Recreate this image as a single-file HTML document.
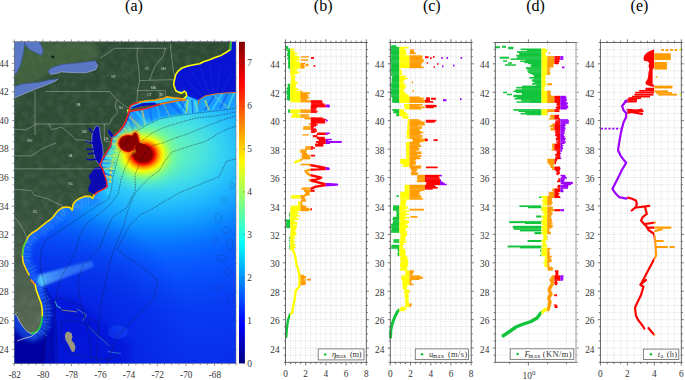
<!DOCTYPE html><html><head><meta charset="utf-8"><style>html,body{margin:0;padding:0;background:#fff;width:685px;height:380px;overflow:hidden}svg{display:block}</style></head><body>
<svg width="685" height="380" viewBox="0 0 685 380">
<defs><radialGradient id="far" gradientUnits="userSpaceOnUse" cx="160" cy="150" r="330" gradientTransform="translate(160 150) scale(1 0.68) translate(-160 -150)"><stop offset="0.0000" stop-color="#68f4b8"/><stop offset="0.0909" stop-color="#58ecc8"/><stop offset="0.1455" stop-color="#46e0e2"/><stop offset="0.1879" stop-color="#36d2f2"/><stop offset="0.2303" stop-color="#28c2fa"/><stop offset="0.2788" stop-color="#1cb0ff"/><stop offset="0.3273" stop-color="#129cff"/><stop offset="0.3758" stop-color="#0a86ff"/><stop offset="0.4303" stop-color="#0870ff"/><stop offset="0.5000" stop-color="#085cff"/><stop offset="0.5909" stop-color="#084cfa"/><stop offset="0.7121" stop-color="#083cf4"/><stop offset="0.8788" stop-color="#0832f0"/><stop offset="1.0000" stop-color="#0a2cec"/></radialGradient><radialGradient id="hot" gradientUnits="userSpaceOnUse" cx="143.5" cy="154.5" r="44" gradientTransform="translate(143.5 154.5) scale(1 0.85) translate(-143.5 -154.5)"><stop offset="0.0000" stop-color="#800000" stop-opacity="1"/><stop offset="0.1932" stop-color="#8c0000" stop-opacity="1"/><stop offset="0.2273" stop-color="#c00000" stop-opacity="1"/><stop offset="0.2682" stop-color="#ff1800" stop-opacity="1"/><stop offset="0.3136" stop-color="#ff6800" stop-opacity="1"/><stop offset="0.3591" stop-color="#ffa800" stop-opacity="1"/><stop offset="0.4045" stop-color="#ffdc00" stop-opacity="1"/><stop offset="0.4500" stop-color="#f0ff10" stop-opacity="1"/><stop offset="0.5068" stop-color="#c8ff38" stop-opacity="1"/><stop offset="0.5909" stop-color="#a0ff60" stop-opacity="0.85"/><stop offset="0.6818" stop-color="#84ff80" stop-opacity="0.6"/><stop offset="0.8182" stop-color="#70f8a0" stop-opacity="0.3"/><stop offset="1.0000" stop-color="#68f4b8" stop-opacity="0"/></radialGradient><radialGradient id="blob"><stop offset="0" stop-color="#800000" stop-opacity="1"/><stop offset="0.78" stop-color="#900000" stop-opacity="1"/><stop offset="0.86" stop-color="#ff0000" stop-opacity="1"/><stop offset="0.93" stop-color="#ffa000" stop-opacity="0.8"/><stop offset="1" stop-color="#ffff00" stop-opacity="0"/></radialGradient><filter id="bl1" x="-0.3" y="-0.3" width="1.6" height="1.6"><feGaussianBlur stdDeviation="0.9"/></filter><filter id="bl3" x="-0.2" y="-0.2" width="1.4" height="1.4"><feGaussianBlur stdDeviation="2.5"/></filter><linearGradient id="landg" gradientUnits="userSpaceOnUse" x1="0" y1="42" x2="0" y2="363"><stop offset="0" stop-color="#2d4b34"/><stop offset="0.35" stop-color="#2e4d35"/><stop offset="0.52" stop-color="#34523b"/><stop offset="0.7" stop-color="#465c48"/><stop offset="1" stop-color="#5e6e58"/></linearGradient><filter id="tex" x="0" y="0" width="1" height="1"><feTurbulence type="fractalNoise" baseFrequency="0.14" numOctaves="3" seed="3"/><feColorMatrix type="matrix" values="0 0 0 0 0.5  0 0 0 0 0.56  0 0 0 0 0.48  0 0 0 0.9 -0.3"/><feComposite in2="SourceGraphic" operator="in"/></filter><radialGradient id="dsw" gradientUnits="userSpaceOnUse" cx="70" cy="330" r="120"><stop offset="0" stop-color="#0414d8" stop-opacity="0.75"/><stop offset="0.6" stop-color="#0418dc" stop-opacity="0.4"/><stop offset="1" stop-color="#0418dc" stop-opacity="0"/></radialGradient><clipPath id="mapclip"><rect x="14.3" y="41.85" width="221.70" height="321.75"/></clipPath><linearGradient id="seab" x1="0" y1="0" x2="0" y2="1"><stop offset="0" stop-color="#0030ff"/><stop offset="1" stop-color="#0018e8"/></linearGradient><linearGradient id="ray" x1="0" y1="0" x2="1" y2="0"><stop offset="0" stop-color="#60c0ff" stop-opacity="0.95"/><stop offset="0.5" stop-color="#4a98ff" stop-opacity="0.7"/><stop offset="1" stop-color="#4890ff" stop-opacity="0.55"/></linearGradient></defs>
<g clip-path="url(#mapclip)"><rect x="14.3" y="41.85" width="221.70" height="321.75" fill="url(#seab)"/><rect x="14.3" y="41.85" width="221.70" height="321.75" fill="url(#far)"/><rect x="14.3" y="200" width="200" height="170" fill="url(#dsw)"/><clipPath id="shc"><polygon points="236.0,90.0 186.0,98.0 160.5,103.0 129.5,110.5 128.2,114.2 125.8,121.3 123.4,126.0 119.5,130.8 114.0,135.6 111.0,137.5 110.5,146.0 105.0,154.7 101.0,162.0 100.3,166.0 104.5,175.0 106.4,180.0 107.1,186.6 104.0,189.0 108.0,196.0 111.3,189.5 112.6,179.0 115.3,168.4 119.2,152.6 125.8,142.0 136.3,131.6 146.8,125.0 160.0,119.0 175.8,115.8 196.8,113.2 215.0,111.0 236.0,108.0"/></clipPath><g clip-path="url(#shc)"><linearGradient id="shg" gradientUnits="userSpaceOnUse" x1="0" y1="100" x2="0" y2="195"><stop offset="0" stop-color="#0c78ff"/><stop offset="0.35" stop-color="#20b4ff"/><stop offset="1" stop-color="#30c8fc"/></linearGradient><polygon points="236.0,90.0 186.0,98.0 160.5,103.0 129.5,110.5 128.2,114.2 125.8,121.3 123.4,126.0 119.5,130.8 114.0,135.6 111.0,137.5 110.5,146.0 105.0,154.7 101.0,162.0 100.3,166.0 104.5,175.0 106.4,180.0 107.1,186.6 104.0,189.0 108.0,196.0 111.3,189.5 112.6,179.0 115.3,168.4 119.2,152.6 125.8,142.0 136.3,131.6 146.8,125.0 160.0,119.0 175.8,115.8 196.8,113.2 215.0,111.0 236.0,108.0" fill="url(#shg)"/><line x1="236.0" y1="90.0" x2="248.7" y2="117.2" stroke="#30d8ff" stroke-width="2.2" opacity="0.63"/><line x1="224.1" y1="91.9" x2="230.5" y2="121.2" stroke="#0050f0" stroke-width="2.2" opacity="0.67"/><line x1="212.3" y1="93.8" x2="234.9" y2="113.5" stroke="#e8f040" stroke-width="1.7" opacity="0.68"/><line x1="200.4" y1="95.7" x2="212.6" y2="123.1" stroke="#40e0ff" stroke-width="2.4" opacity="0.39"/><line x1="188.5" y1="97.6" x2="204.1" y2="123.2" stroke="#0a60ff" stroke-width="1.4" opacity="0.54"/><line x1="181.2" y1="98.9" x2="194.9" y2="125.7" stroke="#ffd040" stroke-width="1.0" opacity="0.43"/><line x1="175.2" y1="100.1" x2="194.0" y2="123.5" stroke="#30d8ff" stroke-width="2.5" opacity="0.62"/><line x1="169.1" y1="101.3" x2="189.8" y2="123.0" stroke="#0050f0" stroke-width="2.3" opacity="0.40"/><line x1="163.1" y1="102.5" x2="175.9" y2="129.6" stroke="#e8f040" stroke-width="1.2" opacity="0.35"/><line x1="156.3" y1="104.0" x2="164.1" y2="133.0" stroke="#40e0ff" stroke-width="1.3" opacity="0.43"/><line x1="148.9" y1="105.8" x2="154.5" y2="135.3" stroke="#0a60ff" stroke-width="2.4" opacity="0.45"/><line x1="141.6" y1="107.6" x2="147.6" y2="137.0" stroke="#ffd040" stroke-width="1.9" opacity="0.59"/><line x1="134.2" y1="109.4" x2="154.2" y2="131.7" stroke="#30d8ff" stroke-width="2.5" opacity="0.59"/><line x1="129.4" y1="110.8" x2="135.3" y2="140.2" stroke="#0050f0" stroke-width="2.4" opacity="0.45"/><line x1="129.1" y1="111.7" x2="146.5" y2="136.1" stroke="#e8f040" stroke-width="1.3" opacity="0.40"/><line x1="128.8" y1="112.6" x2="150.9" y2="132.9" stroke="#40e0ff" stroke-width="1.5" opacity="0.56"/><line x1="128.5" y1="113.4" x2="151.4" y2="132.8" stroke="#0a60ff" stroke-width="2.1" opacity="0.47"/><line x1="128.1" y1="114.4" x2="146.4" y2="138.2" stroke="#ffd040" stroke-width="2.3" opacity="0.52"/><line x1="127.5" y1="116.1" x2="145.8" y2="140.0" stroke="#30d8ff" stroke-width="1.8" opacity="0.60"/><line x1="127.0" y1="117.8" x2="149.2" y2="138.0" stroke="#0050f0" stroke-width="2.6" opacity="0.36"/><line x1="126.4" y1="119.5" x2="136.7" y2="147.7" stroke="#e8f040" stroke-width="2.4" opacity="0.36"/><line x1="125.8" y1="121.2" x2="135.4" y2="149.6" stroke="#40e0ff" stroke-width="1.6" opacity="0.55"/><line x1="125.3" y1="122.3" x2="148.1" y2="141.8" stroke="#0a60ff" stroke-width="1.1" opacity="0.41"/><line x1="124.7" y1="123.5" x2="130.8" y2="152.8" stroke="#ffd040" stroke-width="1.3" opacity="0.61"/><line x1="124.1" y1="124.6" x2="130.8" y2="153.8" stroke="#30d8ff" stroke-width="2.5" opacity="0.47"/><line x1="123.6" y1="125.7" x2="141.1" y2="150.0" stroke="#0050f0" stroke-width="1.8" opacity="0.62"/><line x1="122.7" y1="126.8" x2="144.2" y2="147.8" stroke="#e8f040" stroke-width="2.2" opacity="0.63"/><line x1="121.8" y1="128.0" x2="129.9" y2="156.8" stroke="#40e0ff" stroke-width="1.1" opacity="0.68"/><line x1="120.9" y1="129.1" x2="142.6" y2="149.8" stroke="#0a60ff" stroke-width="1.5" opacity="0.56"/><line x1="120.0" y1="130.2" x2="147.8" y2="141.5" stroke="#ffd040" stroke-width="1.5" opacity="0.67"/><line x1="118.8" y1="131.4" x2="148.5" y2="136.1" stroke="#30d8ff" stroke-width="1.5" opacity="0.46"/><line x1="117.5" y1="132.5" x2="147.5" y2="130.5" stroke="#0050f0" stroke-width="1.1" opacity="0.40"/><line x1="116.2" y1="133.6" x2="145.3" y2="141.0" stroke="#e8f040" stroke-width="2.6" opacity="0.41"/><line x1="114.9" y1="134.8" x2="144.6" y2="130.5" stroke="#40e0ff" stroke-width="2.6" opacity="0.54"/><line x1="113.8" y1="135.7" x2="143.7" y2="137.9" stroke="#0a60ff" stroke-width="1.4" opacity="0.56"/><line x1="113.1" y1="136.2" x2="141.5" y2="145.9" stroke="#ffd040" stroke-width="1.7" opacity="0.50"/><line x1="112.4" y1="136.6" x2="142.1" y2="132.4" stroke="#30d8ff" stroke-width="2.5" opacity="0.36"/><line x1="111.7" y1="137.1" x2="141.4" y2="140.9" stroke="#0050f0" stroke-width="2.3" opacity="0.40"/><line x1="111.0" y1="137.6" x2="139.9" y2="145.7" stroke="#e8f040" stroke-width="2.5" opacity="0.57"/><line x1="110.9" y1="139.7" x2="139.5" y2="148.7" stroke="#40e0ff" stroke-width="1.2" opacity="0.50"/><line x1="110.8" y1="141.7" x2="140.7" y2="139.2" stroke="#0a60ff" stroke-width="2.4" opacity="0.45"/><line x1="110.6" y1="143.7" x2="140.5" y2="146.8" stroke="#ffd040" stroke-width="2.6" opacity="0.65"/><line x1="110.5" y1="145.7" x2="137.9" y2="158.0" stroke="#30d8ff" stroke-width="1.7" opacity="0.52"/><line x1="109.4" y1="147.8" x2="138.3" y2="155.8" stroke="#0050f0" stroke-width="1.8" opacity="0.45"/><line x1="108.1" y1="149.8" x2="138.0" y2="152.0" stroke="#e8f040" stroke-width="1.2" opacity="0.48"/><line x1="106.8" y1="151.9" x2="134.0" y2="164.4" stroke="#40e0ff" stroke-width="2.5" opacity="0.57"/><line x1="105.5" y1="154.0" x2="135.2" y2="157.9" stroke="#0a60ff" stroke-width="1.5" opacity="0.38"/><line x1="104.4" y1="155.8" x2="134.4" y2="155.6" stroke="#ffd040" stroke-width="2.3" opacity="0.65"/><line x1="103.4" y1="157.5" x2="133.4" y2="158.9" stroke="#30d8ff" stroke-width="2.3" opacity="0.62"/><line x1="102.5" y1="159.3" x2="131.6" y2="166.7" stroke="#0050f0" stroke-width="2.1" opacity="0.62"/><line x1="101.5" y1="161.0" x2="131.5" y2="162.4" stroke="#e8f040" stroke-width="2.1" opacity="0.45"/><line x1="100.9" y1="162.4" x2="130.7" y2="166.1" stroke="#40e0ff" stroke-width="2.2" opacity="0.59"/><line x1="100.8" y1="163.4" x2="130.8" y2="163.5" stroke="#0a60ff" stroke-width="2.5" opacity="0.58"/><line x1="100.6" y1="164.3" x2="130.1" y2="169.7" stroke="#ffd040" stroke-width="1.0" opacity="0.54"/><line x1="100.4" y1="165.3" x2="130.4" y2="164.6" stroke="#30d8ff" stroke-width="2.1" opacity="0.51"/><line x1="100.5" y1="166.5" x2="128.9" y2="176.0" stroke="#0050f0" stroke-width="2.0" opacity="0.63"/><line x1="101.5" y1="168.6" x2="131.5" y2="169.7" stroke="#e8f040" stroke-width="2.0" opacity="0.61"/><line x1="102.5" y1="170.7" x2="130.9" y2="180.5" stroke="#40e0ff" stroke-width="1.6" opacity="0.65"/><line x1="103.5" y1="172.9" x2="131.6" y2="183.3" stroke="#0a60ff" stroke-width="2.1" opacity="0.69"/><line x1="104.5" y1="175.0" x2="132.0" y2="187.0" stroke="#ffd040" stroke-width="1.8" opacity="0.54"/><polyline points="186.0,98.0 160.5,103.0 129.5,110.5 128.2,114.2 125.8,121.3 123.4,126.0 119.5,130.8 114.0,135.6 111.0,137.5 110.5,146.0 105.0,154.7 101.0,162.0 100.3,166.0 104.5,175.0" fill="none" stroke="#0020d0" stroke-width="3" opacity="0.8"/><polyline points="104.0,189.0 108.0,196.0 111.3,189.5 112.6,179.0 115.3,168.4 119.2,152.6 125.8,142.0 136.3,131.6 146.8,125.0 160.0,119.0 175.8,115.8 196.8,113.2 215.0,111.0 236.0,108.0" fill="none" stroke="#30e0ff" stroke-width="3" opacity="0.45"/><polyline points="125,134 119,143 115.5,152 113,160 111.5,168 110.5,176 110,184" fill="none" stroke="#f8e020" stroke-width="2.2" stroke-dasharray="2.5,2" opacity="0.8"/><polyline points="123,137 117,147 114,156 112,164 110.8,172 110,180" fill="none" stroke="#ff8c00" stroke-width="1.2" stroke-dasharray="1.5,3" opacity="0.8"/></g><rect x="90" y="100" width="110" height="110" fill="url(#hot)"/><ellipse cx="141.8" cy="152.8" rx="9.8" ry="9" fill="#880000"/><polygon points="170.0,40.0 237.0,40.0 237.0,92.5 225.0,93.0 215.0,94.0 205.0,96.0 199.0,100.0 194.0,98.0 189.0,96.5 186.0,95.0 184.0,92.0 172.0,90.0" fill="#0814d2"/><line x1="208" y1="98" x2="192" y2="72" stroke="#1a44f4" stroke-width="1.2" opacity="0.25"/><line x1="211" y1="97" x2="200" y2="68" stroke="#1a44f4" stroke-width="1.2" opacity="0.25"/><line x1="214" y1="96" x2="210" y2="66" stroke="#1a44f4" stroke-width="1.2" opacity="0.25"/><line x1="217" y1="95" x2="220" y2="66" stroke="#1a44f4" stroke-width="1.2" opacity="0.25"/><line x1="205" y1="99" x2="186" y2="80" stroke="#1a44f4" stroke-width="1.2" opacity="0.25"/><line x1="221" y1="94" x2="232" y2="72" stroke="#1a44f4" stroke-width="1.2" opacity="0.25"/><line x1="202" y1="102" x2="182" y2="88" stroke="#1a44f4" stroke-width="1.2" opacity="0.25"/><polygon points="196.0,111.0 199.0,100.0 205.0,96.0 215.0,94.0 225.0,93.0 237.0,92.5 237.0,112.0" fill="#20a8ff" opacity="0.7"/><line x1="205" y1="110" x2="214" y2="96" stroke="#0a40f0" stroke-width="1.8" opacity="0.6"/><line x1="212" y1="110" x2="222" y2="94" stroke="#40e0ff" stroke-width="1.8" opacity="0.6"/><line x1="220" y1="108" x2="228" y2="93" stroke="#0a50f0" stroke-width="1.8" opacity="0.6"/><line x1="228" y1="108" x2="234" y2="93" stroke="#60f0d0" stroke-width="1.8" opacity="0.6"/><line x1="209" y1="110" x2="205" y2="100" stroke="#e0f040" stroke-width="1.8" opacity="0.6"/><polyline points="196.0,111.0 199.0,100.0 205.0,96.0 215.0,94.0 225.0,93.0 237.0,92.5" fill="none" stroke="#ff7a00" stroke-width="0.9"/><polygon points="183,99 190,97.5 198,101 197,112 190,114 184,106" fill="#38d0ff" opacity="0.8"/><line x1="188" y1="100" x2="186" y2="113" stroke="#e8f040" stroke-width="1.6" opacity="0.6"/><line x1="192" y1="100" x2="193" y2="113" stroke="#0a50f0" stroke-width="1.6" opacity="0.6"/><line x1="195" y1="101" x2="198" y2="112" stroke="#60f0d0" stroke-width="1.6" opacity="0.6"/><line x1="185" y1="101" x2="181" y2="110" stroke="#0a60f0" stroke-width="1.6" opacity="0.6"/><polygon points="10,300 35,296 45,300 48,320 47,345 45,365 10,365" fill="#0000a0"/><polygon points="45,300 54,300 56,330 56,365 45,365 47,345 48,320" fill="#0008b8" filter="url(#bl3)"/><polygon points="54,295 75,300 100,320 130,345 130,365 56,365 56,330" fill="#0010d0" opacity="0.45" filter="url(#bl3)"/><ellipse cx="118" cy="332" rx="10" ry="7" fill="#2060ff" opacity="0.3"/><polygon points="42,288 47,288 53,300 55,363 45,363 44,330 43,310" fill="#0008b0" opacity="0.7"/><polyline points="94.0,195.1 92.6,198.4 90.0,196.4 84.7,196.4 79.5,198.4 74.9,201.7 72.9,205.0 72.2,210.3 70.3,207.6 66.3,207.0 62.4,207.6 58.4,210.3 55.1,214.2 53.2,216.8 50.5,219.5 46.6,222.1 42.6,225.4 40.0,227.4 37.0,230.0 32.0,233.0 28.7,236.0 26.6,240.0 23.5,246.8 22.4,255.0 23.0,262.0 25.6,268.0 29.0,275.0 31.1,280.0 35.4,285.1 36.3,290.3 38.8,297.1 41.4,304.0 42.3,310.8 42.3,316.8 41.4,322.8 39.7,328.0 36.3,332.2 31.1,333.4 26.8,331.4 22.6,326.2 19.1,321.1 17.4,316.8 14.9,314.2 10.0,312.0" fill="none" stroke="#1c70ff" stroke-width="16" stroke-linejoin="round" opacity="0.55" filter="url(#bl3)"/><line x1="93.6" y1="196.1" x2="101.2" y2="199.3" stroke="#60c0ff" stroke-width="1.1" opacity="0.3"/><line x1="92.9" y1="197.7" x2="102.3" y2="201.8" stroke="#3090ff" stroke-width="1.1" opacity="0.3"/><line x1="91.8" y1="197.8" x2="96.9" y2="191.3" stroke="#60c0ff" stroke-width="1.1" opacity="0.3"/><line x1="90.5" y1="196.8" x2="94.8" y2="191.3" stroke="#60c0ff" stroke-width="1.1" opacity="0.3"/><line x1="88.4" y1="196.4" x2="88.4" y2="204.8" stroke="#60c0ff" stroke-width="1.1" opacity="0.3"/><line x1="85.8" y1="196.4" x2="85.8" y2="206.4" stroke="#40a0ff" stroke-width="1.1" opacity="0.3"/><line x1="83.1" y1="197.0" x2="86.1" y2="204.7" stroke="#40a0ff" stroke-width="1.1" opacity="0.3"/><line x1="80.5" y1="198.0" x2="82.9" y2="204.0" stroke="#60c0ff" stroke-width="1.1" opacity="0.3"/><line x1="78.1" y1="199.4" x2="83.5" y2="206.8" stroke="#60c0ff" stroke-width="1.1" opacity="0.3"/><line x1="75.8" y1="201.0" x2="82.2" y2="209.9" stroke="#3090ff" stroke-width="1.1" opacity="0.3"/><line x1="74.3" y1="202.7" x2="82.2" y2="207.5" stroke="#60c0ff" stroke-width="1.1" opacity="0.3"/><line x1="73.3" y1="204.3" x2="81.2" y2="209.1" stroke="#60c0ff" stroke-width="1.1" opacity="0.3"/><line x1="72.7" y1="206.6" x2="78.7" y2="207.4" stroke="#60c0ff" stroke-width="1.1" opacity="0.3"/><line x1="72.3" y1="209.2" x2="78.6" y2="210.1" stroke="#40a0ff" stroke-width="1.1" opacity="0.3"/><line x1="71.6" y1="209.5" x2="77.3" y2="205.5" stroke="#40a0ff" stroke-width="1.1" opacity="0.3"/><line x1="70.7" y1="208.1" x2="78.0" y2="203.0" stroke="#3090ff" stroke-width="1.1" opacity="0.3"/><line x1="69.1" y1="207.4" x2="70.2" y2="199.9" stroke="#60c0ff" stroke-width="1.1" opacity="0.3"/><line x1="67.1" y1="207.1" x2="68.6" y2="197.0" stroke="#60c0ff" stroke-width="1.1" opacity="0.3"/><line x1="65.1" y1="207.2" x2="66.2" y2="214.3" stroke="#3090ff" stroke-width="1.1" opacity="0.3"/><line x1="63.2" y1="207.5" x2="64.5" y2="215.9" stroke="#60c0ff" stroke-width="1.1" opacity="0.3"/><line x1="61.2" y1="208.4" x2="64.8" y2="213.7" stroke="#60c0ff" stroke-width="1.1" opacity="0.3"/><line x1="59.2" y1="209.8" x2="63.3" y2="215.9" stroke="#60c0ff" stroke-width="1.1" opacity="0.3"/><line x1="57.4" y1="211.5" x2="65.8" y2="218.6" stroke="#40a0ff" stroke-width="1.1" opacity="0.3"/><line x1="55.8" y1="213.4" x2="63.0" y2="219.6" stroke="#3090ff" stroke-width="1.1" opacity="0.3"/><line x1="54.5" y1="215.0" x2="62.4" y2="220.8" stroke="#60c0ff" stroke-width="1.1" opacity="0.3"/><line x1="53.6" y1="216.3" x2="59.6" y2="220.7" stroke="#40a0ff" stroke-width="1.1" opacity="0.3"/><line x1="52.4" y1="217.6" x2="58.6" y2="223.8" stroke="#40a0ff" stroke-width="1.1" opacity="0.3"/><line x1="51.0" y1="219.0" x2="56.7" y2="224.6" stroke="#3090ff" stroke-width="1.1" opacity="0.3"/><line x1="49.3" y1="220.3" x2="53.7" y2="226.9" stroke="#40a0ff" stroke-width="1.1" opacity="0.3"/><line x1="47.4" y1="221.6" x2="53.1" y2="230.1" stroke="#40a0ff" stroke-width="1.1" opacity="0.3"/><line x1="45.4" y1="223.1" x2="49.9" y2="228.5" stroke="#40a0ff" stroke-width="1.1" opacity="0.3"/><line x1="43.4" y1="224.7" x2="48.7" y2="231.2" stroke="#60c0ff" stroke-width="1.1" opacity="0.3"/><line x1="41.8" y1="226.0" x2="46.7" y2="232.3" stroke="#40a0ff" stroke-width="1.1" opacity="0.3"/><line x1="40.5" y1="227.0" x2="45.9" y2="234.0" stroke="#40a0ff" stroke-width="1.1" opacity="0.3"/><line x1="39.1" y1="228.2" x2="45.6" y2="235.7" stroke="#3090ff" stroke-width="1.1" opacity="0.3"/><line x1="37.6" y1="229.5" x2="42.6" y2="235.3" stroke="#3090ff" stroke-width="1.1" opacity="0.3"/><line x1="35.5" y1="230.9" x2="39.4" y2="237.5" stroke="#3090ff" stroke-width="1.1" opacity="0.3"/><line x1="33.0" y1="232.4" x2="38.0" y2="240.8" stroke="#40a0ff" stroke-width="1.1" opacity="0.3"/><line x1="31.0" y1="233.9" x2="35.5" y2="238.8" stroke="#60c0ff" stroke-width="1.1" opacity="0.3"/><line x1="29.4" y1="235.4" x2="33.7" y2="240.2" stroke="#40a0ff" stroke-width="1.1" opacity="0.3"/><line x1="28.1" y1="237.2" x2="35.4" y2="241.1" stroke="#3090ff" stroke-width="1.1" opacity="0.3"/><line x1="27.0" y1="239.2" x2="33.1" y2="242.4" stroke="#60c0ff" stroke-width="1.1" opacity="0.3"/><line x1="25.7" y1="242.0" x2="32.0" y2="244.9" stroke="#60c0ff" stroke-width="1.1" opacity="0.3"/><line x1="24.1" y1="245.4" x2="30.4" y2="248.3" stroke="#60c0ff" stroke-width="1.1" opacity="0.3"/><line x1="23.2" y1="249.3" x2="32.9" y2="250.6" stroke="#3090ff" stroke-width="1.1" opacity="0.3"/><line x1="22.6" y1="253.4" x2="31.8" y2="254.6" stroke="#40a0ff" stroke-width="1.1" opacity="0.3"/><line x1="22.6" y1="257.1" x2="30.5" y2="256.4" stroke="#40a0ff" stroke-width="1.1" opacity="0.3"/><line x1="22.9" y1="260.6" x2="28.9" y2="260.1" stroke="#60c0ff" stroke-width="1.1" opacity="0.3"/><line x1="23.8" y1="263.8" x2="30.7" y2="260.8" stroke="#40a0ff" stroke-width="1.1" opacity="0.3"/><line x1="25.1" y1="266.8" x2="31.6" y2="264.0" stroke="#3090ff" stroke-width="1.1" opacity="0.3"/><line x1="26.6" y1="270.1" x2="36.5" y2="265.3" stroke="#60c0ff" stroke-width="1.1" opacity="0.3"/><line x1="28.3" y1="273.6" x2="36.6" y2="269.6" stroke="#40a0ff" stroke-width="1.1" opacity="0.3"/><line x1="29.6" y1="276.5" x2="35.4" y2="274.1" stroke="#40a0ff" stroke-width="1.1" opacity="0.3"/><line x1="30.7" y1="279.0" x2="37.2" y2="276.3" stroke="#3090ff" stroke-width="1.1" opacity="0.3"/><line x1="32.4" y1="281.5" x2="37.0" y2="277.6" stroke="#60c0ff" stroke-width="1.1" opacity="0.3"/><line x1="34.5" y1="284.1" x2="40.4" y2="279.2" stroke="#3090ff" stroke-width="1.1" opacity="0.3"/><line x1="35.7" y1="286.7" x2="43.5" y2="285.3" stroke="#40a0ff" stroke-width="1.1" opacity="0.3"/><line x1="36.1" y1="289.3" x2="42.5" y2="288.2" stroke="#60c0ff" stroke-width="1.1" opacity="0.3"/><line x1="37.0" y1="292.3" x2="45.7" y2="289.2" stroke="#40a0ff" stroke-width="1.1" opacity="0.3"/><line x1="38.3" y1="295.7" x2="46.8" y2="292.6" stroke="#3090ff" stroke-width="1.1" opacity="0.3"/><line x1="39.6" y1="299.2" x2="48.1" y2="296.0" stroke="#40a0ff" stroke-width="1.1" opacity="0.3"/><line x1="40.9" y1="302.6" x2="51.0" y2="298.8" stroke="#3090ff" stroke-width="1.1" opacity="0.3"/><line x1="41.7" y1="306.0" x2="51.7" y2="304.7" stroke="#40a0ff" stroke-width="1.1" opacity="0.3"/><line x1="42.1" y1="309.4" x2="52.4" y2="308.1" stroke="#40a0ff" stroke-width="1.1" opacity="0.3"/><line x1="42.3" y1="312.6" x2="51.4" y2="312.6" stroke="#3090ff" stroke-width="1.1" opacity="0.3"/><line x1="42.3" y1="315.6" x2="52.8" y2="315.6" stroke="#60c0ff" stroke-width="1.1" opacity="0.3"/><line x1="42.0" y1="318.6" x2="49.2" y2="319.7" stroke="#40a0ff" stroke-width="1.1" opacity="0.3"/><line x1="41.6" y1="321.6" x2="48.3" y2="322.6" stroke="#60c0ff" stroke-width="1.1" opacity="0.3"/><line x1="40.9" y1="324.4" x2="51.1" y2="327.7" stroke="#40a0ff" stroke-width="1.1" opacity="0.3"/><line x1="40.0" y1="327.0" x2="49.0" y2="329.9" stroke="#3090ff" stroke-width="1.1" opacity="0.3"/><line x1="38.7" y1="329.3" x2="46.8" y2="335.8" stroke="#60c0ff" stroke-width="1.1" opacity="0.3"/><line x1="37.0" y1="331.4" x2="41.9" y2="335.4" stroke="#40a0ff" stroke-width="1.1" opacity="0.3"/><line x1="34.7" y1="332.6" x2="36.2" y2="338.9" stroke="#40a0ff" stroke-width="1.1" opacity="0.3"/><line x1="32.1" y1="333.2" x2="34.1" y2="341.5" stroke="#3090ff" stroke-width="1.1" opacity="0.3"/><line x1="29.8" y1="332.8" x2="32.8" y2="326.3" stroke="#60c0ff" stroke-width="1.1" opacity="0.3"/><line x1="27.7" y1="331.8" x2="31.0" y2="324.6" stroke="#3090ff" stroke-width="1.1" opacity="0.3"/><line x1="25.5" y1="329.8" x2="33.4" y2="323.5" stroke="#60c0ff" stroke-width="1.1" opacity="0.3"/><line x1="23.4" y1="327.2" x2="30.0" y2="321.9" stroke="#60c0ff" stroke-width="1.1" opacity="0.3"/><line x1="21.6" y1="324.7" x2="27.2" y2="320.8" stroke="#60c0ff" stroke-width="1.1" opacity="0.3"/><line x1="19.8" y1="322.1" x2="28.8" y2="316.0" stroke="#40a0ff" stroke-width="1.1" opacity="0.3"/><line x1="18.6" y1="319.8" x2="25.2" y2="317.2" stroke="#60c0ff" stroke-width="1.1" opacity="0.3"/><line x1="17.7" y1="317.7" x2="26.4" y2="314.3" stroke="#60c0ff" stroke-width="1.1" opacity="0.3"/><line x1="16.6" y1="316.0" x2="23.2" y2="309.7" stroke="#3090ff" stroke-width="1.1" opacity="0.3"/><line x1="15.4" y1="314.7" x2="20.5" y2="309.8" stroke="#40a0ff" stroke-width="1.1" opacity="0.3"/><line x1="13.4" y1="313.5" x2="17.4" y2="304.7" stroke="#40a0ff" stroke-width="1.1" opacity="0.3"/><line x1="11.0" y1="312.4" x2="14.0" y2="305.7" stroke="#3090ff" stroke-width="1.1" opacity="0.3"/><polygon points="38,275 91.4,260.4 94.4,266.4 41,287" fill="url(#ray)" opacity="0.9" filter="url(#bl1)"/><ellipse cx="41" cy="281" rx="4" ry="4.5" fill="#50d0ff" opacity="0.7" filter="url(#bl1)"/><polygon points="118.7,143.9 119.4,140.3 121.6,137.4 124.5,136.0 128.8,135.2 132.5,136.2 133.6,133.6 136.0,132.8 137.6,135.2 138.4,138.9 139.5,142.5 138.0,144.5 135.3,145.6 133.9,149.7 128.8,151.9 123.7,150.6 120.1,147.5" fill="#ffe020" stroke="#ffe020" stroke-width="6" stroke-linejoin="round" opacity="0.55" filter="url(#bl1)"/><polygon points="118.7,143.9 119.4,140.3 121.6,137.4 124.5,136.0 128.8,135.2 132.5,136.2 133.6,133.6 136.0,132.8 137.6,135.2 138.4,138.9 139.5,142.5 138.0,144.5 135.3,145.6 133.9,149.7 128.8,151.9 123.7,150.6 120.1,147.5" fill="#ff8000" stroke="#ff8000" stroke-width="3.2" stroke-linejoin="round" filter="url(#bl1)"/><polygon points="118.7,143.9 119.4,140.3 121.6,137.4 124.5,136.0 128.8,135.2 132.5,136.2 133.6,133.6 136.0,132.8 137.6,135.2 138.4,138.9 139.5,142.5 138.0,144.5 135.3,145.6 133.9,149.7 128.8,151.9 123.7,150.6 120.1,147.5" fill="#8a0000" stroke="#e00000" stroke-width="1" stroke-linejoin="round"/><ellipse cx="140" cy="148" rx="5" ry="5" fill="#8a0000"/><polygon points="231.0,41.0 230.5,46.0 230.5,49.5 226.0,52.5 221.0,55.4 215.0,57.5 209.0,60.0 204.0,61.5 199.7,63.7 194.0,64.8 187.9,66.0 182.0,68.0 178.4,70.8 175.8,74.5 174.9,77.9 174.0,81.5 173.7,85.0 175.0,88.5 176.0,91.0 180.8,93.3 183.0,92.5 184.3,91.0 186.0,92.5 186.7,95.7 183.2,99.2 180.0,98.5 176.0,98.0 173.2,97.9 166.9,96.8 163.7,98.4 155.8,100.0 146.3,100.8 138.4,102.4 132.1,104.7 129.7,107.1 129.0,111.0 128.2,114.2 127.4,116.6 125.8,121.3 123.4,126.0 119.5,130.8 115.5,134.8 114.0,135.6 111.0,133.0 109.0,130.0 108.0,129.0 108.5,133.0 111.0,137.5 112.0,138.0 110.5,146.0 108.0,150.0 105.0,154.7 102.5,159.0 101.0,162.0 100.0,165.0 100.3,166.0 102.4,168.4 104.5,175.0 106.4,180.0 107.1,186.6 104.5,188.6 97.9,191.8 94.0,195.1 92.6,198.4 90.0,196.4 84.7,196.4 79.5,198.4 74.9,201.7 72.9,205.0 72.2,210.3 70.3,207.6 66.3,207.0 62.4,207.6 58.4,210.3 55.1,214.2 53.2,216.8 50.5,219.5 46.6,222.1 42.6,225.4 40.0,227.4 37.0,230.0 32.0,233.0 28.7,236.0 26.6,240.0 23.5,246.8 22.4,255.0 23.0,262.0 25.6,268.0 29.0,275.0 31.1,280.0 35.4,285.1 36.3,290.3 38.8,297.1 41.4,304.0 42.3,310.8 42.3,316.8 41.4,322.8 39.7,328.0 36.3,332.2 31.1,333.4 26.8,331.4 22.6,326.2 19.1,321.1 17.4,316.8 14.9,314.2 10.0,312.0 10,312 10,40" fill="url(#landg)"/><polygon points="231.0,41.0 230.5,46.0 230.5,49.5 226.0,52.5 221.0,55.4 215.0,57.5 209.0,60.0 204.0,61.5 199.7,63.7 194.0,64.8 187.9,66.0 182.0,68.0 178.4,70.8 175.8,74.5 174.9,77.9 174.0,81.5 173.7,85.0 175.0,88.5 176.0,91.0 180.8,93.3 183.0,92.5 184.3,91.0 186.0,92.5 186.7,95.7 183.2,99.2 180.0,98.5 176.0,98.0 173.2,97.9 166.9,96.8 163.7,98.4 155.8,100.0 146.3,100.8 138.4,102.4 132.1,104.7 129.7,107.1 129.0,111.0 128.2,114.2 127.4,116.6 125.8,121.3 123.4,126.0 119.5,130.8 115.5,134.8 114.0,135.6 111.0,133.0 109.0,130.0 108.0,129.0 108.5,133.0 111.0,137.5 112.0,138.0 110.5,146.0 108.0,150.0 105.0,154.7 102.5,159.0 101.0,162.0 100.0,165.0 100.3,166.0 102.4,168.4 104.5,175.0 106.4,180.0 107.1,186.6 104.5,188.6 97.9,191.8 94.0,195.1 92.6,198.4 90.0,196.4 84.7,196.4 79.5,198.4 74.9,201.7 72.9,205.0 72.2,210.3 70.3,207.6 66.3,207.0 62.4,207.6 58.4,210.3 55.1,214.2 53.2,216.8 50.5,219.5 46.6,222.1 42.6,225.4 40.0,227.4 37.0,230.0 32.0,233.0 28.7,236.0 26.6,240.0 23.5,246.8 22.4,255.0 23.0,262.0 25.6,268.0 29.0,275.0 31.1,280.0 35.4,285.1 36.3,290.3 38.8,297.1 41.4,304.0 42.3,310.8 42.3,316.8 41.4,322.8 39.7,328.0 36.3,332.2 31.1,333.4 26.8,331.4 22.6,326.2 19.1,321.1 17.4,316.8 14.9,314.2 10.0,312.0 10,312 10,40" fill="#fff" filter="url(#tex)" opacity="0.24"/><polygon points="14,41 96,41 100,58 80,64 50,74 30,84 14,92" fill="#5a7c4c" opacity="0.45" filter="url(#bl3)"/><polygon points="129.5,109 141.6,106.2 154,104.6 160.5,103.6 159,105.8 145,108.8 131,111.6" fill="#415840"/><polygon points="131.3,107.4 141.6,103.2 154.2,102.6 157.4,104 154,104.9 141.6,106.3 132,108.4" fill="#0a10c0"/><polygon points="97.1,125.5 99.5,127.5 100.0,133.2 101.0,139.7 102.7,146.3 103.2,154.2 102.0,159.5 101.7,163.5 99.2,164.5 96.4,161.0 94.5,156.0 93.4,151.6 92.5,146.3 91.8,141.0 92.0,135.8 93.5,130.5 95.5,127.0" fill="#0808b0" stroke="#a8a8e8" stroke-width="0.6"/><polyline points="95.0,144.0 90.0,142.5 85.3,141.0" fill="none" stroke="#0808b0" stroke-width="1.5"/><polyline points="95.6,149.0 91.0,149.5 86.6,149.0" fill="none" stroke="#0808b0" stroke-width="1.5"/><polyline points="96.0,153.0 91.0,153.5 88.0,154.0" fill="none" stroke="#0808b0" stroke-width="1.5"/><polyline points="97.5,159.0 92.0,159.8 86.6,159.5" fill="none" stroke="#0808b0" stroke-width="1.5"/><polyline points="94.0,133.0 91.0,131.0 89.0,128.0" fill="none" stroke="#0808b0" stroke-width="1.5"/><polygon points="114,135.6 111,132 109,129.5 108,129 108.3,133 111,137.5" fill="#0a0ab0"/><polygon points="106.6,181 107.4,186.4 104.2,188.3 97.6,191.4 93.5,194.2 88,191 89,186 91,182 88.5,176 92,172 94,168 100.5,166.5 102.4,168.5 104.5,175" fill="#0a0ab0"/><polygon points="10,40 24.5,40 24.5,44 23.5,52.6 20.3,65.3 16.1,73.7 10,75" fill="#5b78c6" stroke="#3c56a8" stroke-width="0.6"/><polygon points="25,40 38,40 41,45 43.2,50.5 41.6,55.2 36,52.8 29,49 25,44.2" fill="#5b78c6" stroke="#3c56a8" stroke-width="0.6"/><polygon points="48,71.8 50.3,68.6 55,66.5 61.4,64.7 69,63.8 77.2,63.1 84,62.3 89.8,61.5 95.4,60.7 97.7,64.7 96,69.4 91,71.2 86.7,72.6 80,72.8 74,72.6 67,72.2 61.4,71.8 56.7,73.4 50.3,74.2" fill="#5b78c6" stroke="#3c56a8" stroke-width="0.6"/><polygon points="10,98 10,86.8 14,86.8 23.5,83.7 37.7,82.4 50.3,79.7 58.2,78.9 55,81.3 45.6,85.2 33,90 21.9,94.7 14,97.9" fill="#5b78c6" stroke="#3c56a8" stroke-width="0.6"/><polyline points="14,97.9 21.9,94.7 33,90 45.6,85.2 55,81.3 58.2,78.9" fill="none" stroke="#d8dcd8" stroke-width="0.6" opacity="0.8"/><polyline points="50.3,74.2 56.7,73.4 61.4,71.8 67,72.2 74,72.6 80,72.8 86.7,72.6 91,71.2 96,69.4 97.7,64.7" fill="none" stroke="#d8dcd8" stroke-width="0.6" opacity="0.8"/><ellipse cx="52.7" cy="56.8" rx="1.8" ry="1.4" fill="#1a2a20"/><polygon points="65.5,333 68,331.5 71.5,333 72.5,337 71.5,340 74,343 75.5,347 74.5,351.5 72,352 70,348 68,344 65.5,340 64.8,336" fill="#9c9880"/><polyline points="55,301 57,306 61,308.3" fill="none" stroke="#40c0e0" stroke-width="1.1" opacity="0.8"/><polyline points="61.5,310 70,311 77,312" fill="none" stroke="#a09878" stroke-width="1.1" opacity="0.8"/><polyline points="77,309 86.5,315 82.7,320.8" fill="none" stroke="#60a8b0" stroke-width="0.9" opacity="0.7"/><polyline points="88.5,326.5 93,331 98,336 104,341 109.6,345.8" fill="none" stroke="#40a0d0" stroke-width="0.9" opacity="0.7"/><polyline points="107.7,351.5 114,352.5 121,353.5" fill="none" stroke="#40a0d0" stroke-width="0.9" opacity="0.7"/><polyline points="54.0,300.0 62.0,298.0 72.0,302.0 80.0,306.0 86.0,312.0 84.0,318.0 76.0,316.0 66.0,313.0 58.0,308.0 54.0,304.0 54.0,300.0" fill="none" stroke="#181830" stroke-width="0.6" stroke-dasharray="1.5,0.8" opacity="0.7"/><polyline points="62.0,322.0 70.0,320.0 80.0,322.0 88.0,326.0 96.0,332.0 104.0,340.0 112.0,348.0 118.0,355.0 110.0,360.0 96.0,358.0 84.0,356.0 74.0,355.0 66.0,350.0 62.0,340.0 61.0,330.0 62.0,322.0" fill="none" stroke="#181830" stroke-width="0.6" stroke-dasharray="1.5,0.8" opacity="0.7"/><polyline points="90.0,318.0 96.0,322.0 100.0,330.0 96.0,334.0 90.0,328.0 88.0,322.0 90.0,318.0" fill="none" stroke="#181830" stroke-width="0.6" stroke-dasharray="1.5,0.8" opacity="0.7"/><polyline points="236.0,108.0 215.0,111.0 196.8,113.2 175.8,115.8 160.0,119.0 146.8,125.0 136.3,131.6 125.8,142.0 119.2,152.6 115.3,168.4 112.6,179.0 111.3,189.5 108.7,199.0 96.9,206.0 82.7,215.5 68.4,225.0 54.2,234.5 44.7,241.6 41.0,252.0 40.0,262.0 41.5,272.0 44.0,282.0 46.0,292.0 47.0,305.0 47.0,320.0 45.5,335.0 44.0,350.0 43.0,363.0" fill="none" stroke="#1a1a30" stroke-width="0.6" stroke-dasharray="1.8,0.9" opacity="0.75"/><polyline points="236.0,112.0 215.0,116.0 196.0,118.0 177.6,123.1 165.0,127.0 152.0,133.0 143.0,140.0 136.0,148.0 130.0,158.0 125.0,168.0 121.0,180.0 118.2,194.2 108.7,206.0 96.9,215.5 87.4,222.7 80.3,234.5 75.5,251.0 70.0,262.0 62.0,275.0 57.0,290.0 55.0,310.0 56.0,330.0 58.0,363.0" fill="none" stroke="#1a1a30" stroke-width="0.6" stroke-dasharray="1.8,0.9" opacity="0.75"/><polyline points="236.0,116.0 223.7,119.5 205.0,126.8 186.8,134.2 175.0,138.0 163.0,143.0 153.0,145.3 146.0,152.0 140.0,162.0 135.0,175.0 135.5,190.0 126.4,208.0 112.7,217.0 106.0,231.0 99.0,249.0 92.0,256.0 83.0,265.0 78.0,280.0 80.0,300.0 85.0,320.0 90.0,340.0 92.0,363.0" fill="none" stroke="#1a1a30" stroke-width="0.6" stroke-dasharray="1.8,0.9" opacity="0.75"/><polyline points="236.0,126.0 223.7,130.5 205.0,141.6 186.8,147.0 172.0,152.0 165.0,161.0 158.4,171.6 150.5,176.8 140.0,187.4 133.0,197.0 128.0,210.0 124.0,225.0 118.0,240.0 112.0,255.0 108.0,270.0 104.0,290.0 100.0,310.0 98.0,335.0 96.0,363.0" fill="none" stroke="#1a1a30" stroke-width="0.6" stroke-dasharray="1.8,0.9" opacity="0.75"/><polyline points="236.0,159.0 226.8,161.0 224.0,166.3 219.0,176.8 205.7,182.0 192.6,187.4 179.5,192.6 166.0,200.5 153.0,208.4 140.0,215.0 130.0,225.0 126.4,231.0 117.3,249.0 125.0,256.0 135.5,262.7 148.0,272.0 158.0,281.0 153.6,299.0 140.0,312.7 126.4,326.4 115.0,340.0 108.0,363.0" fill="none" stroke="#1a1a30" stroke-width="0.6" stroke-dasharray="1.8,0.9" opacity="0.75"/><ellipse cx="218" cy="218" rx="3" ry="5" fill="none" stroke="#202038" stroke-width="0.5" stroke-dasharray="1.2,0.8" opacity="0.6"/><ellipse cx="226" cy="230" rx="4" ry="3" fill="none" stroke="#202038" stroke-width="0.5" stroke-dasharray="1.2,0.8" opacity="0.6"/><ellipse cx="230" cy="245" rx="3" ry="6" fill="none" stroke="#202038" stroke-width="0.5" stroke-dasharray="1.2,0.8" opacity="0.6"/><ellipse cx="221" cy="258" rx="5" ry="3" fill="none" stroke="#202038" stroke-width="0.5" stroke-dasharray="1.2,0.8" opacity="0.6"/><ellipse cx="228" cy="272" rx="3" ry="4" fill="none" stroke="#202038" stroke-width="0.5" stroke-dasharray="1.2,0.8" opacity="0.6"/><ellipse cx="216" cy="288" rx="4" ry="3" fill="none" stroke="#202038" stroke-width="0.5" stroke-dasharray="1.2,0.8" opacity="0.6"/><ellipse cx="231" cy="300" rx="3" ry="5" fill="none" stroke="#202038" stroke-width="0.5" stroke-dasharray="1.2,0.8" opacity="0.6"/><ellipse cx="224" cy="200" rx="3" ry="2" fill="none" stroke="#202038" stroke-width="0.5" stroke-dasharray="1.2,0.8" opacity="0.6"/><ellipse cx="232" cy="186" rx="2" ry="3" fill="none" stroke="#202038" stroke-width="0.5" stroke-dasharray="1.2,0.8" opacity="0.6"/><ellipse cx="215" cy="240" rx="2" ry="3" fill="none" stroke="#202038" stroke-width="0.5" stroke-dasharray="1.2,0.8" opacity="0.6"/><polyline points="100.0,58.4 114.7,48.3 166.3,48.3" fill="none" stroke="#d8dcd4" stroke-width="0.5" opacity="0.75"/><polyline points="137.8,48.3 136.8,54.7 138.7,67.6 139.6,80.5 137.8,89.7 136.8,102.6" fill="none" stroke="#d8dcd4" stroke-width="0.5" opacity="0.75"/><polyline points="165.4,48.3 163.5,55.7 155.2,65.8 150.6,76.8 149.7,80.5" fill="none" stroke="#d8dcd4" stroke-width="0.5" opacity="0.75"/><polyline points="170.9,44.0 170.5,48.0 173.7,73.1 175.5,77.8" fill="none" stroke="#d8dcd4" stroke-width="0.5" opacity="0.75"/><polyline points="139.6,80.5 175.5,79.6" fill="none" stroke="#d8dcd4" stroke-width="0.5" opacity="0.75"/><polyline points="136.8,90.6 165.4,90.6" fill="none" stroke="#d8dcd4" stroke-width="0.5" opacity="0.75"/><polyline points="159.9,91.6 159.9,98.0" fill="none" stroke="#d8dcd4" stroke-width="0.5" opacity="0.75"/><polyline points="165.4,90.6 165.4,95.2" fill="none" stroke="#d8dcd4" stroke-width="0.5" opacity="0.75"/><polyline points="45.6,91.5 109.6,91.5" fill="none" stroke="#d8dcd4" stroke-width="0.5" opacity="0.75"/><polyline points="109.6,91.5 116.6,99.4 115.2,106.6 118.0,112.4 112.3,118.2 109.6,124.0" fill="none" stroke="#d8dcd4" stroke-width="0.5" opacity="0.75"/><polyline points="116.6,99.4 128.0,108.0" fill="none" stroke="#d8dcd4" stroke-width="0.5" opacity="0.75"/><polyline points="35.7,124.0 109.6,124.0" fill="none" stroke="#d8dcd4" stroke-width="0.5" opacity="0.75"/><polyline points="48.7,124.0 51.6,129.7 61.7,127.0 71.8,135.5 76.2,139.8 84.0,140.0 90.0,142.0" fill="none" stroke="#d8dcd4" stroke-width="0.5" opacity="0.75"/><polyline points="14.0,129.0 25.0,130.0 31.4,127.0 35.7,124.0" fill="none" stroke="#d8dcd4" stroke-width="0.5" opacity="0.75"/><polyline points="104.3,124.0 104.3,141.0 111.6,142.4" fill="none" stroke="#d8dcd4" stroke-width="0.5" opacity="0.75"/><polyline points="35.0,91.6 35.0,135.0" fill="none" stroke="#d8dcd4" stroke-width="0.5" opacity="0.75"/><polyline points="14.0,168.8 40.0,168.8 70.0,168.8 101.0,168.8" fill="none" stroke="#d8dcd4" stroke-width="0.5" opacity="0.75"/><polyline points="14.0,155.8 31.4,155.8 36.0,153.0 40.0,150.0 48.0,146.0 56.0,143.0" fill="none" stroke="#d8dcd4" stroke-width="0.5" opacity="0.75"/><polyline points="14.0,189.0 31.4,190.6 34.3,195.0 48.0,199.0 60.4,205.0 64.7,208.0" fill="none" stroke="#d8dcd4" stroke-width="0.5" opacity="0.75"/><polyline points="14.0,216.7 17.0,219.6 24.0,231.0 28.5,242.8" fill="none" stroke="#d8dcd4" stroke-width="0.5" opacity="0.75"/><polyline points="14.0,315.0 18.0,312.0" fill="none" stroke="#d8dcd4" stroke-width="0.5" opacity="0.75"/><circle cx="128.6" cy="110.8" r="1.8" fill="#e8f020"/><circle cx="127.6" cy="111.8" r="0.9" fill="#40e060"/><text x="78.4" y="106.4" font-family="Liberation Sans, sans-serif" font-size="3.2" fill="#e8ece8" text-anchor="middle" opacity="0.8">PA</text><text x="113.7" y="78" font-family="Liberation Sans, sans-serif" font-size="3.2" fill="#e8ece8" text-anchor="middle" opacity="0.8">NY</text><text x="121" y="109" font-family="Liberation Sans, sans-serif" font-size="3.2" fill="#e8ece8" text-anchor="middle" opacity="0.8">NJ</text><text x="84.8" y="132.5" font-family="Liberation Sans, sans-serif" font-size="3.2" fill="#e8ece8" text-anchor="middle" opacity="0.8">MD</text><text x="106.5" y="140.2" font-family="Liberation Sans, sans-serif" font-size="3.2" fill="#e8ece8" text-anchor="middle" opacity="0.8">DE</text><text x="147" y="70" font-family="Liberation Sans, sans-serif" font-size="3.2" fill="#e8ece8" text-anchor="middle" opacity="0.8">VT</text><text x="163.5" y="70" font-family="Liberation Sans, sans-serif" font-size="3.2" fill="#e8ece8" text-anchor="middle" opacity="0.8">NH</text><text x="153.4" y="88.7" font-family="Liberation Sans, sans-serif" font-size="3.2" fill="#e8ece8" text-anchor="middle" opacity="0.8">MA</text><text x="149.7" y="95.7" font-family="Liberation Sans, sans-serif" font-size="3.2" fill="#e8ece8" text-anchor="middle" opacity="0.8">CT</text><text x="161.7" y="95.7" font-family="Liberation Sans, sans-serif" font-size="3.2" fill="#e8ece8" text-anchor="middle" opacity="0.8">RI</text><text x="70.5" y="157.3" font-family="Liberation Sans, sans-serif" font-size="3.2" fill="#e8ece8" text-anchor="middle" opacity="0.8">VA</text><text x="70.8" y="184.7" font-family="Liberation Sans, sans-serif" font-size="3.2" fill="#e8ece8" text-anchor="middle" opacity="0.8">NC</text><text x="35" y="213.1" font-family="Liberation Sans, sans-serif" font-size="3.2" fill="#e8ece8" text-anchor="middle" opacity="0.8">SC</text><text x="29.9" y="141.7" font-family="Liberation Sans, sans-serif" font-size="3.2" fill="#e8ece8" text-anchor="middle" opacity="0.8">WV</text>
<polyline points="231.0,41.0 230.5,46.0 230.5,49.5 226.0,52.5 221.0,55.4 215.0,57.5 209.0,60.0 204.0,61.5 199.7,63.7 194.0,64.8 187.9,66.0 182.0,68.0 178.4,70.8 175.8,74.5 174.9,77.9 174.0,81.5 173.7,85.0 175.0,88.5 176.0,91.0 180.8,93.3 183.0,92.5 184.3,91.0 186.0,92.5 186.7,95.7 183.2,99.2" fill="none" stroke="#ffff00" stroke-width="1.6" stroke-linejoin="round" stroke-linecap="round"/><polyline points="231.0,41.0 230.5,46.0 230.5,49.5" fill="none" stroke="#20d040" stroke-width="1.6" stroke-linejoin="round" stroke-linecap="round"/><polyline points="183.2,99.2 180.0,98.5 176.0,98.0 173.2,97.9 166.9,96.8 163.7,98.4 155.8,100.0 146.3,100.8 138.4,102.4" fill="none" stroke="#ffa000" stroke-width="1.6" stroke-linejoin="round" stroke-linecap="round"/><polyline points="138.4,102.4 132.1,104.7 129.7,107.1 129.0,111.0 128.2,114.2 127.4,116.6 125.8,121.3 123.4,126.0 119.5,130.8 115.5,134.8 114.0,135.6" fill="none" stroke="#ff2020" stroke-width="1.5" stroke-linejoin="round" stroke-linecap="round"/><polyline points="129.5,111.5 145.0,108.8 160.5,104.0" fill="none" stroke="#ff2020" stroke-width="1.4" stroke-linejoin="round" stroke-linecap="round"/><polyline points="160.5,104.0 181.0,100.0 186.0,100.0" fill="none" stroke="#ff8000" stroke-width="1.4" stroke-linejoin="round" stroke-linecap="round"/><polyline points="112.0,138.0 110.5,146.0 108.0,150.0 105.0,154.7 102.5,159.0 101.0,162.0 100.0,165.0" fill="none" stroke="#ff2020" stroke-width="1.3" stroke-linejoin="round" stroke-linecap="round"/><polyline points="100.0,165.0 100.3,166.0 102.4,168.4 104.5,175.0 106.4,180.0 107.1,186.6 104.5,188.6 97.9,191.8 94.0,195.1" fill="none" stroke="#ff2020" stroke-width="1.4" stroke-linejoin="round" stroke-linecap="round"/><polyline points="94.0,195.1 92.6,198.4 90.0,196.4 84.7,196.4 79.5,198.4 74.9,201.7 72.9,205.0 72.2,210.3 70.3,207.6 66.3,207.0 62.4,207.6 58.4,210.3 55.1,214.2 53.2,216.8 50.5,219.5 46.6,222.1 42.6,225.4 40.0,227.4 37.0,230.0 32.0,233.0 28.7,236.0 26.6,240.0 23.5,246.8 22.4,255.0 23.0,262.0 25.6,268.0 29.0,275.0" fill="none" stroke="#ffd800" stroke-width="1.6" stroke-linejoin="round" stroke-linecap="round"/><polyline points="26.6,240.0 23.5,246.8 22.4,255.0" fill="none" stroke="#30d040" stroke-width="1.4" stroke-linejoin="round" stroke-linecap="round"/><polyline points="31.1,280.0 35.4,285.1" fill="none" stroke="#ff9000" stroke-width="1.6" stroke-linejoin="round" stroke-linecap="round"/><polyline points="35.4,285.1 36.3,290.3 38.8,297.1 41.4,304.0 42.3,310.8 42.3,316.8" fill="none" stroke="#ffee00" stroke-width="1.6" stroke-linejoin="round" stroke-linecap="round"/><polyline points="42.3,316.8 41.4,322.8 39.7,328.0 36.3,332.2 31.1,333.4" fill="none" stroke="#20d040" stroke-width="1.6" stroke-linejoin="round" stroke-linecap="round"/><polyline points="31.1,333.4 26.8,331.4 22.6,326.2 19.1,321.1 17.4,316.8 14.9,314.2 10.0,312.0" fill="none" stroke="#c8ccc8" stroke-width="0.7" stroke-linejoin="round" stroke-linecap="round"/><polyline points="17.4,340.8 24.0,338.5 31.1,336.5 38.0,331.4" fill="none" stroke="#d0d4d0" stroke-width="0.8" stroke-linejoin="round" stroke-linecap="round"/>
</g>
<text x="134" y="10.8" font-family="Liberation Serif, serif" font-size="16" text-anchor="middle" fill="#000">(a)</text>
<text x="323.2" y="10.8" font-family="Liberation Serif, serif" font-size="16" text-anchor="middle" fill="#000">(b)</text>
<text x="431.8" y="10.8" font-family="Liberation Serif, serif" font-size="16" text-anchor="middle" fill="#000">(c)</text>
<text x="535.5" y="10.8" font-family="Liberation Serif, serif" font-size="16" text-anchor="middle" fill="#000">(d)</text>
<text x="639.5" y="10.8" font-family="Liberation Serif, serif" font-size="16" text-anchor="middle" fill="#000">(e)</text>
<g stroke="#666" stroke-width="0.7"><line x1="12.700000000000001" y1="363.60" x2="14.3" y2="363.60"/><line x1="12.700000000000001" y1="356.45" x2="14.3" y2="356.45"/><line x1="11.9" y1="349.30" x2="14.3" y2="349.30"/><line x1="12.700000000000001" y1="342.15" x2="14.3" y2="342.15"/><line x1="12.700000000000001" y1="335.00" x2="14.3" y2="335.00"/><line x1="12.700000000000001" y1="327.85" x2="14.3" y2="327.85"/><line x1="11.9" y1="320.70" x2="14.3" y2="320.70"/><line x1="12.700000000000001" y1="313.55" x2="14.3" y2="313.55"/><line x1="12.700000000000001" y1="306.40" x2="14.3" y2="306.40"/><line x1="12.700000000000001" y1="299.25" x2="14.3" y2="299.25"/><line x1="11.9" y1="292.10" x2="14.3" y2="292.10"/><line x1="12.700000000000001" y1="284.95" x2="14.3" y2="284.95"/><line x1="12.700000000000001" y1="277.80" x2="14.3" y2="277.80"/><line x1="12.700000000000001" y1="270.65" x2="14.3" y2="270.65"/><line x1="11.9" y1="263.50" x2="14.3" y2="263.50"/><line x1="12.700000000000001" y1="256.35" x2="14.3" y2="256.35"/><line x1="12.700000000000001" y1="249.20" x2="14.3" y2="249.20"/><line x1="12.700000000000001" y1="242.05" x2="14.3" y2="242.05"/><line x1="11.9" y1="234.90" x2="14.3" y2="234.90"/><line x1="12.700000000000001" y1="227.75" x2="14.3" y2="227.75"/><line x1="12.700000000000001" y1="220.60" x2="14.3" y2="220.60"/><line x1="12.700000000000001" y1="213.45" x2="14.3" y2="213.45"/><line x1="11.9" y1="206.30" x2="14.3" y2="206.30"/><line x1="12.700000000000001" y1="199.15" x2="14.3" y2="199.15"/><line x1="12.700000000000001" y1="192.00" x2="14.3" y2="192.00"/><line x1="12.700000000000001" y1="184.85" x2="14.3" y2="184.85"/><line x1="11.9" y1="177.70" x2="14.3" y2="177.70"/><line x1="12.700000000000001" y1="170.55" x2="14.3" y2="170.55"/><line x1="12.700000000000001" y1="163.40" x2="14.3" y2="163.40"/><line x1="12.700000000000001" y1="156.25" x2="14.3" y2="156.25"/><line x1="11.9" y1="149.10" x2="14.3" y2="149.10"/><line x1="12.700000000000001" y1="141.95" x2="14.3" y2="141.95"/><line x1="12.700000000000001" y1="134.80" x2="14.3" y2="134.80"/><line x1="12.700000000000001" y1="127.65" x2="14.3" y2="127.65"/><line x1="11.9" y1="120.50" x2="14.3" y2="120.50"/><line x1="12.700000000000001" y1="113.35" x2="14.3" y2="113.35"/><line x1="12.700000000000001" y1="106.20" x2="14.3" y2="106.20"/><line x1="12.700000000000001" y1="99.05" x2="14.3" y2="99.05"/><line x1="11.9" y1="91.90" x2="14.3" y2="91.90"/><line x1="12.700000000000001" y1="84.75" x2="14.3" y2="84.75"/><line x1="12.700000000000001" y1="77.60" x2="14.3" y2="77.60"/><line x1="12.700000000000001" y1="70.45" x2="14.3" y2="70.45"/><line x1="11.9" y1="63.30" x2="14.3" y2="63.30"/><line x1="12.700000000000001" y1="56.15" x2="14.3" y2="56.15"/><line x1="12.700000000000001" y1="49.00" x2="14.3" y2="49.00"/><line x1="12.700000000000001" y1="41.85" x2="14.3" y2="41.85"/><line x1="14.30" y1="363.6" x2="14.30" y2="366.0"/><line x1="14.30" y1="39.45" x2="14.30" y2="41.85"/><line x1="21.45" y1="363.6" x2="21.45" y2="365.20000000000005"/><line x1="21.45" y1="40.25" x2="21.45" y2="41.85"/><line x1="28.60" y1="363.6" x2="28.60" y2="365.20000000000005"/><line x1="28.60" y1="40.25" x2="28.60" y2="41.85"/><line x1="35.75" y1="363.6" x2="35.75" y2="365.20000000000005"/><line x1="35.75" y1="40.25" x2="35.75" y2="41.85"/><line x1="42.91" y1="363.6" x2="42.91" y2="366.0"/><line x1="42.91" y1="39.45" x2="42.91" y2="41.85"/><line x1="50.06" y1="363.6" x2="50.06" y2="365.20000000000005"/><line x1="50.06" y1="40.25" x2="50.06" y2="41.85"/><line x1="57.21" y1="363.6" x2="57.21" y2="365.20000000000005"/><line x1="57.21" y1="40.25" x2="57.21" y2="41.85"/><line x1="64.36" y1="363.6" x2="64.36" y2="365.20000000000005"/><line x1="64.36" y1="40.25" x2="64.36" y2="41.85"/><line x1="71.51" y1="363.6" x2="71.51" y2="366.0"/><line x1="71.51" y1="39.45" x2="71.51" y2="41.85"/><line x1="78.66" y1="363.6" x2="78.66" y2="365.20000000000005"/><line x1="78.66" y1="40.25" x2="78.66" y2="41.85"/><line x1="85.82" y1="363.6" x2="85.82" y2="365.20000000000005"/><line x1="85.82" y1="40.25" x2="85.82" y2="41.85"/><line x1="92.97" y1="363.6" x2="92.97" y2="365.20000000000005"/><line x1="92.97" y1="40.25" x2="92.97" y2="41.85"/><line x1="100.12" y1="363.6" x2="100.12" y2="366.0"/><line x1="100.12" y1="39.45" x2="100.12" y2="41.85"/><line x1="107.27" y1="363.6" x2="107.27" y2="365.20000000000005"/><line x1="107.27" y1="40.25" x2="107.27" y2="41.85"/><line x1="114.42" y1="363.6" x2="114.42" y2="365.20000000000005"/><line x1="114.42" y1="40.25" x2="114.42" y2="41.85"/><line x1="121.57" y1="363.6" x2="121.57" y2="365.20000000000005"/><line x1="121.57" y1="40.25" x2="121.57" y2="41.85"/><line x1="128.73" y1="363.6" x2="128.73" y2="366.0"/><line x1="128.73" y1="39.45" x2="128.73" y2="41.85"/><line x1="135.88" y1="363.6" x2="135.88" y2="365.20000000000005"/><line x1="135.88" y1="40.25" x2="135.88" y2="41.85"/><line x1="143.03" y1="363.6" x2="143.03" y2="365.20000000000005"/><line x1="143.03" y1="40.25" x2="143.03" y2="41.85"/><line x1="150.18" y1="363.6" x2="150.18" y2="365.20000000000005"/><line x1="150.18" y1="40.25" x2="150.18" y2="41.85"/><line x1="157.33" y1="363.6" x2="157.33" y2="366.0"/><line x1="157.33" y1="39.45" x2="157.33" y2="41.85"/><line x1="164.48" y1="363.6" x2="164.48" y2="365.20000000000005"/><line x1="164.48" y1="40.25" x2="164.48" y2="41.85"/><line x1="171.64" y1="363.6" x2="171.64" y2="365.20000000000005"/><line x1="171.64" y1="40.25" x2="171.64" y2="41.85"/><line x1="178.79" y1="363.6" x2="178.79" y2="365.20000000000005"/><line x1="178.79" y1="40.25" x2="178.79" y2="41.85"/><line x1="185.94" y1="363.6" x2="185.94" y2="366.0"/><line x1="185.94" y1="39.45" x2="185.94" y2="41.85"/><line x1="193.09" y1="363.6" x2="193.09" y2="365.20000000000005"/><line x1="193.09" y1="40.25" x2="193.09" y2="41.85"/><line x1="200.24" y1="363.6" x2="200.24" y2="365.20000000000005"/><line x1="200.24" y1="40.25" x2="200.24" y2="41.85"/><line x1="207.39" y1="363.6" x2="207.39" y2="365.20000000000005"/><line x1="207.39" y1="40.25" x2="207.39" y2="41.85"/><line x1="214.55" y1="363.6" x2="214.55" y2="366.0"/><line x1="214.55" y1="39.45" x2="214.55" y2="41.85"/><line x1="221.70" y1="363.6" x2="221.70" y2="365.20000000000005"/><line x1="221.70" y1="40.25" x2="221.70" y2="41.85"/><line x1="228.85" y1="363.6" x2="228.85" y2="365.20000000000005"/><line x1="228.85" y1="40.25" x2="228.85" y2="41.85"/><line x1="236.00" y1="363.6" x2="236.00" y2="365.20000000000005"/><line x1="236.00" y1="40.25" x2="236.00" y2="41.85"/></g>
<rect x="236.0" y="41.85" width="2.6" height="321.75" fill="#fbfaf4"/>
<g stroke="#bbb" stroke-width="0.6"><line x1="236.3" y1="363.60" x2="237.8" y2="363.60"/><line x1="236.3" y1="349.30" x2="237.8" y2="349.30"/><line x1="236.3" y1="335.00" x2="237.8" y2="335.00"/><line x1="236.3" y1="320.70" x2="237.8" y2="320.70"/><line x1="236.3" y1="306.40" x2="237.8" y2="306.40"/><line x1="236.3" y1="292.10" x2="237.8" y2="292.10"/><line x1="236.3" y1="277.80" x2="237.8" y2="277.80"/><line x1="236.3" y1="263.50" x2="237.8" y2="263.50"/><line x1="236.3" y1="249.20" x2="237.8" y2="249.20"/><line x1="236.3" y1="234.90" x2="237.8" y2="234.90"/><line x1="236.3" y1="220.60" x2="237.8" y2="220.60"/><line x1="236.3" y1="206.30" x2="237.8" y2="206.30"/><line x1="236.3" y1="192.00" x2="237.8" y2="192.00"/><line x1="236.3" y1="177.70" x2="237.8" y2="177.70"/><line x1="236.3" y1="163.40" x2="237.8" y2="163.40"/><line x1="236.3" y1="149.10" x2="237.8" y2="149.10"/><line x1="236.3" y1="134.80" x2="237.8" y2="134.80"/><line x1="236.3" y1="120.50" x2="237.8" y2="120.50"/><line x1="236.3" y1="106.20" x2="237.8" y2="106.20"/><line x1="236.3" y1="91.90" x2="237.8" y2="91.90"/><line x1="236.3" y1="77.60" x2="237.8" y2="77.60"/><line x1="236.3" y1="63.30" x2="237.8" y2="63.30"/><line x1="236.3" y1="49.00" x2="237.8" y2="49.00"/></g>
<rect x="14.3" y="41.85" width="221.70" height="321.75" fill="none" stroke="#777" stroke-width="0.5"/>
<g font-family="Liberation Serif, serif" font-size="9.3" fill="#333"><text x="8.6" y="352.60" text-anchor="end">24</text><text x="8.6" y="324.00" text-anchor="end">26</text><text x="8.6" y="295.40" text-anchor="end">28</text><text x="8.6" y="266.80" text-anchor="end">30</text><text x="8.6" y="238.20" text-anchor="end">32</text><text x="8.6" y="209.60" text-anchor="end">34</text><text x="8.6" y="181.00" text-anchor="end">36</text><text x="8.6" y="152.40" text-anchor="end">38</text><text x="8.6" y="123.80" text-anchor="end">40</text><text x="8.6" y="95.20" text-anchor="end">42</text><text x="8.6" y="66.60" text-anchor="end">44</text><text x="14.60" y="377.6" text-anchor="middle">-82</text><text x="43.21" y="377.6" text-anchor="middle">-80</text><text x="71.81" y="377.6" text-anchor="middle">-78</text><text x="100.42" y="377.6" text-anchor="middle">-76</text><text x="129.03" y="377.6" text-anchor="middle">-74</text><text x="157.63" y="377.6" text-anchor="middle">-72</text><text x="186.24" y="377.6" text-anchor="middle">-70</text><text x="214.85" y="377.6" text-anchor="middle">-68</text></g>
<defs><linearGradient id="cbar" x1="0" y1="1" x2="0" y2="0"><stop offset="0.0000" stop-color="#000080"/><stop offset="0.0333" stop-color="#0000a2"/><stop offset="0.0667" stop-color="#0000c3"/><stop offset="0.1000" stop-color="#0000e6"/><stop offset="0.1333" stop-color="#0008ff"/><stop offset="0.1667" stop-color="#002aff"/><stop offset="0.2000" stop-color="#004dff"/><stop offset="0.2333" stop-color="#006fff"/><stop offset="0.2667" stop-color="#0091ff"/><stop offset="0.3000" stop-color="#00b3ff"/><stop offset="0.3333" stop-color="#00d4ff"/><stop offset="0.3667" stop-color="#00f6ff"/><stop offset="0.4000" stop-color="#1affe5"/><stop offset="0.4333" stop-color="#3cffc3"/><stop offset="0.4667" stop-color="#5effa2"/><stop offset="0.5000" stop-color="#80ff80"/><stop offset="0.5333" stop-color="#a2ff5e"/><stop offset="0.5667" stop-color="#c3ff3c"/><stop offset="0.6000" stop-color="#e5ff1a"/><stop offset="0.6333" stop-color="#fff700"/><stop offset="0.6667" stop-color="#ffd500"/><stop offset="0.7000" stop-color="#ffb300"/><stop offset="0.7333" stop-color="#ff9100"/><stop offset="0.7667" stop-color="#ff6e00"/><stop offset="0.8000" stop-color="#ff4c00"/><stop offset="0.8333" stop-color="#ff2a00"/><stop offset="0.8667" stop-color="#ff0800"/><stop offset="0.9000" stop-color="#e50000"/><stop offset="0.9333" stop-color="#c30000"/><stop offset="0.9667" stop-color="#a20000"/><stop offset="1.0000" stop-color="#800000"/></linearGradient></defs>
<rect x="239.0" y="41.8" width="5.90" height="321.60" fill="url(#cbar)"/>
<g stroke="#555" stroke-width="0.6"><line x1="243.3" y1="363.40" x2="244.9" y2="363.40"/><line x1="243.3" y1="320.52" x2="244.9" y2="320.52"/><line x1="243.3" y1="277.64" x2="244.9" y2="277.64"/><line x1="243.3" y1="234.76" x2="244.9" y2="234.76"/><line x1="243.3" y1="191.88" x2="244.9" y2="191.88"/><line x1="243.3" y1="149.00" x2="244.9" y2="149.00"/><line x1="243.3" y1="106.12" x2="244.9" y2="106.12"/><line x1="243.3" y1="63.24" x2="244.9" y2="63.24"/></g>
<g font-family="Liberation Serif, serif" font-size="9.3" fill="#333"><text x="247.2" y="366.60">0</text><text x="247.2" y="323.72">1</text><text x="247.2" y="280.84">2</text><text x="247.2" y="237.96">3</text><text x="247.2" y="195.08">4</text><text x="247.2" y="152.20">5</text><text x="247.2" y="109.32">6</text><text x="247.2" y="66.44">7</text></g>
<g stroke="#d0d0d0" stroke-width="0.6" stroke-dasharray="1.2,1.2"><line x1="285.5" y1="355.19" x2="366.3" y2="355.19"/><line x1="285.5" y1="348.09" x2="366.3" y2="348.09"/><line x1="285.5" y1="340.98" x2="366.3" y2="340.98"/><line x1="285.5" y1="333.87" x2="366.3" y2="333.87"/><line x1="285.5" y1="326.77" x2="366.3" y2="326.77"/><line x1="285.5" y1="319.66" x2="366.3" y2="319.66"/><line x1="285.5" y1="312.55" x2="366.3" y2="312.55"/><line x1="285.5" y1="305.45" x2="366.3" y2="305.45"/><line x1="285.5" y1="298.34" x2="366.3" y2="298.34"/><line x1="285.5" y1="291.23" x2="366.3" y2="291.23"/><line x1="285.5" y1="284.13" x2="366.3" y2="284.13"/><line x1="285.5" y1="277.02" x2="366.3" y2="277.02"/><line x1="285.5" y1="269.91" x2="366.3" y2="269.91"/><line x1="285.5" y1="262.81" x2="366.3" y2="262.81"/><line x1="285.5" y1="255.70" x2="366.3" y2="255.70"/><line x1="285.5" y1="248.59" x2="366.3" y2="248.59"/><line x1="285.5" y1="241.49" x2="366.3" y2="241.49"/><line x1="285.5" y1="234.38" x2="366.3" y2="234.38"/><line x1="285.5" y1="227.27" x2="366.3" y2="227.27"/><line x1="285.5" y1="220.17" x2="366.3" y2="220.17"/><line x1="285.5" y1="213.06" x2="366.3" y2="213.06"/><line x1="285.5" y1="205.95" x2="366.3" y2="205.95"/><line x1="285.5" y1="198.85" x2="366.3" y2="198.85"/><line x1="285.5" y1="191.74" x2="366.3" y2="191.74"/><line x1="285.5" y1="184.63" x2="366.3" y2="184.63"/><line x1="285.5" y1="177.53" x2="366.3" y2="177.53"/><line x1="285.5" y1="170.42" x2="366.3" y2="170.42"/><line x1="285.5" y1="163.31" x2="366.3" y2="163.31"/><line x1="285.5" y1="156.21" x2="366.3" y2="156.21"/><line x1="285.5" y1="149.10" x2="366.3" y2="149.10"/><line x1="285.5" y1="141.99" x2="366.3" y2="141.99"/><line x1="285.5" y1="134.89" x2="366.3" y2="134.89"/><line x1="285.5" y1="127.78" x2="366.3" y2="127.78"/><line x1="285.5" y1="120.67" x2="366.3" y2="120.67"/><line x1="285.5" y1="113.57" x2="366.3" y2="113.57"/><line x1="285.5" y1="106.46" x2="366.3" y2="106.46"/><line x1="285.5" y1="99.35" x2="366.3" y2="99.35"/><line x1="285.5" y1="92.25" x2="366.3" y2="92.25"/><line x1="285.5" y1="85.14" x2="366.3" y2="85.14"/><line x1="285.5" y1="78.03" x2="366.3" y2="78.03"/><line x1="285.5" y1="70.93" x2="366.3" y2="70.93"/><line x1="285.5" y1="63.82" x2="366.3" y2="63.82"/><line x1="285.5" y1="56.71" x2="366.3" y2="56.71"/><line x1="285.5" y1="49.61" x2="366.3" y2="49.61"/><line x1="290.55" y1="42.5" x2="290.55" y2="362.3"/><line x1="295.60" y1="42.5" x2="295.60" y2="362.3"/><line x1="300.65" y1="42.5" x2="300.65" y2="362.3"/><line x1="305.70" y1="42.5" x2="305.70" y2="362.3"/><line x1="310.75" y1="42.5" x2="310.75" y2="362.3"/><line x1="315.80" y1="42.5" x2="315.80" y2="362.3"/><line x1="320.85" y1="42.5" x2="320.85" y2="362.3"/><line x1="325.90" y1="42.5" x2="325.90" y2="362.3"/><line x1="330.95" y1="42.5" x2="330.95" y2="362.3"/><line x1="336.00" y1="42.5" x2="336.00" y2="362.3"/><line x1="341.05" y1="42.5" x2="341.05" y2="362.3"/><line x1="346.10" y1="42.5" x2="346.10" y2="362.3"/><line x1="351.15" y1="42.5" x2="351.15" y2="362.3"/><line x1="356.20" y1="42.5" x2="356.20" y2="362.3"/><line x1="361.25" y1="42.5" x2="361.25" y2="362.3"/></g>
<g stroke="#d0d0d0" stroke-width="0.6" stroke-dasharray="1.2,1.2"><line x1="390.3" y1="355.19" x2="471.2" y2="355.19"/><line x1="390.3" y1="348.09" x2="471.2" y2="348.09"/><line x1="390.3" y1="340.98" x2="471.2" y2="340.98"/><line x1="390.3" y1="333.87" x2="471.2" y2="333.87"/><line x1="390.3" y1="326.77" x2="471.2" y2="326.77"/><line x1="390.3" y1="319.66" x2="471.2" y2="319.66"/><line x1="390.3" y1="312.55" x2="471.2" y2="312.55"/><line x1="390.3" y1="305.45" x2="471.2" y2="305.45"/><line x1="390.3" y1="298.34" x2="471.2" y2="298.34"/><line x1="390.3" y1="291.23" x2="471.2" y2="291.23"/><line x1="390.3" y1="284.13" x2="471.2" y2="284.13"/><line x1="390.3" y1="277.02" x2="471.2" y2="277.02"/><line x1="390.3" y1="269.91" x2="471.2" y2="269.91"/><line x1="390.3" y1="262.81" x2="471.2" y2="262.81"/><line x1="390.3" y1="255.70" x2="471.2" y2="255.70"/><line x1="390.3" y1="248.59" x2="471.2" y2="248.59"/><line x1="390.3" y1="241.49" x2="471.2" y2="241.49"/><line x1="390.3" y1="234.38" x2="471.2" y2="234.38"/><line x1="390.3" y1="227.27" x2="471.2" y2="227.27"/><line x1="390.3" y1="220.17" x2="471.2" y2="220.17"/><line x1="390.3" y1="213.06" x2="471.2" y2="213.06"/><line x1="390.3" y1="205.95" x2="471.2" y2="205.95"/><line x1="390.3" y1="198.85" x2="471.2" y2="198.85"/><line x1="390.3" y1="191.74" x2="471.2" y2="191.74"/><line x1="390.3" y1="184.63" x2="471.2" y2="184.63"/><line x1="390.3" y1="177.53" x2="471.2" y2="177.53"/><line x1="390.3" y1="170.42" x2="471.2" y2="170.42"/><line x1="390.3" y1="163.31" x2="471.2" y2="163.31"/><line x1="390.3" y1="156.21" x2="471.2" y2="156.21"/><line x1="390.3" y1="149.10" x2="471.2" y2="149.10"/><line x1="390.3" y1="141.99" x2="471.2" y2="141.99"/><line x1="390.3" y1="134.89" x2="471.2" y2="134.89"/><line x1="390.3" y1="127.78" x2="471.2" y2="127.78"/><line x1="390.3" y1="120.67" x2="471.2" y2="120.67"/><line x1="390.3" y1="113.57" x2="471.2" y2="113.57"/><line x1="390.3" y1="106.46" x2="471.2" y2="106.46"/><line x1="390.3" y1="99.35" x2="471.2" y2="99.35"/><line x1="390.3" y1="92.25" x2="471.2" y2="92.25"/><line x1="390.3" y1="85.14" x2="471.2" y2="85.14"/><line x1="390.3" y1="78.03" x2="471.2" y2="78.03"/><line x1="390.3" y1="70.93" x2="471.2" y2="70.93"/><line x1="390.3" y1="63.82" x2="471.2" y2="63.82"/><line x1="390.3" y1="56.71" x2="471.2" y2="56.71"/><line x1="390.3" y1="49.61" x2="471.2" y2="49.61"/><line x1="395.36" y1="42.5" x2="395.36" y2="362.3"/><line x1="400.41" y1="42.5" x2="400.41" y2="362.3"/><line x1="405.47" y1="42.5" x2="405.47" y2="362.3"/><line x1="410.52" y1="42.5" x2="410.52" y2="362.3"/><line x1="415.58" y1="42.5" x2="415.58" y2="362.3"/><line x1="420.64" y1="42.5" x2="420.64" y2="362.3"/><line x1="425.69" y1="42.5" x2="425.69" y2="362.3"/><line x1="430.75" y1="42.5" x2="430.75" y2="362.3"/><line x1="435.81" y1="42.5" x2="435.81" y2="362.3"/><line x1="440.86" y1="42.5" x2="440.86" y2="362.3"/><line x1="445.92" y1="42.5" x2="445.92" y2="362.3"/><line x1="450.98" y1="42.5" x2="450.98" y2="362.3"/><line x1="456.03" y1="42.5" x2="456.03" y2="362.3"/><line x1="461.09" y1="42.5" x2="461.09" y2="362.3"/><line x1="466.14" y1="42.5" x2="466.14" y2="362.3"/></g>
<g stroke="#d0d0d0" stroke-width="0.6" stroke-dasharray="1.2,1.2"><line x1="495.3" y1="355.19" x2="576.2" y2="355.19"/><line x1="495.3" y1="348.09" x2="576.2" y2="348.09"/><line x1="495.3" y1="340.98" x2="576.2" y2="340.98"/><line x1="495.3" y1="333.87" x2="576.2" y2="333.87"/><line x1="495.3" y1="326.77" x2="576.2" y2="326.77"/><line x1="495.3" y1="319.66" x2="576.2" y2="319.66"/><line x1="495.3" y1="312.55" x2="576.2" y2="312.55"/><line x1="495.3" y1="305.45" x2="576.2" y2="305.45"/><line x1="495.3" y1="298.34" x2="576.2" y2="298.34"/><line x1="495.3" y1="291.23" x2="576.2" y2="291.23"/><line x1="495.3" y1="284.13" x2="576.2" y2="284.13"/><line x1="495.3" y1="277.02" x2="576.2" y2="277.02"/><line x1="495.3" y1="269.91" x2="576.2" y2="269.91"/><line x1="495.3" y1="262.81" x2="576.2" y2="262.81"/><line x1="495.3" y1="255.70" x2="576.2" y2="255.70"/><line x1="495.3" y1="248.59" x2="576.2" y2="248.59"/><line x1="495.3" y1="241.49" x2="576.2" y2="241.49"/><line x1="495.3" y1="234.38" x2="576.2" y2="234.38"/><line x1="495.3" y1="227.27" x2="576.2" y2="227.27"/><line x1="495.3" y1="220.17" x2="576.2" y2="220.17"/><line x1="495.3" y1="213.06" x2="576.2" y2="213.06"/><line x1="495.3" y1="205.95" x2="576.2" y2="205.95"/><line x1="495.3" y1="198.85" x2="576.2" y2="198.85"/><line x1="495.3" y1="191.74" x2="576.2" y2="191.74"/><line x1="495.3" y1="184.63" x2="576.2" y2="184.63"/><line x1="495.3" y1="177.53" x2="576.2" y2="177.53"/><line x1="495.3" y1="170.42" x2="576.2" y2="170.42"/><line x1="495.3" y1="163.31" x2="576.2" y2="163.31"/><line x1="495.3" y1="156.21" x2="576.2" y2="156.21"/><line x1="495.3" y1="149.10" x2="576.2" y2="149.10"/><line x1="495.3" y1="141.99" x2="576.2" y2="141.99"/><line x1="495.3" y1="134.89" x2="576.2" y2="134.89"/><line x1="495.3" y1="127.78" x2="576.2" y2="127.78"/><line x1="495.3" y1="120.67" x2="576.2" y2="120.67"/><line x1="495.3" y1="113.57" x2="576.2" y2="113.57"/><line x1="495.3" y1="106.46" x2="576.2" y2="106.46"/><line x1="495.3" y1="99.35" x2="576.2" y2="99.35"/><line x1="495.3" y1="92.25" x2="576.2" y2="92.25"/><line x1="495.3" y1="85.14" x2="576.2" y2="85.14"/><line x1="495.3" y1="78.03" x2="576.2" y2="78.03"/><line x1="495.3" y1="70.93" x2="576.2" y2="70.93"/><line x1="495.3" y1="63.82" x2="576.2" y2="63.82"/><line x1="495.3" y1="56.71" x2="576.2" y2="56.71"/><line x1="495.3" y1="49.61" x2="576.2" y2="49.61"/><line x1="509.60" y1="42.5" x2="509.60" y2="362.3"/><line x1="528.40" y1="42.5" x2="528.40" y2="362.3"/><line x1="547.60" y1="42.5" x2="547.60" y2="362.3"/><line x1="566.40" y1="42.5" x2="566.40" y2="362.3"/></g>
<g stroke="#d0d0d0" stroke-width="0.6" stroke-dasharray="1.2,1.2"><line x1="600.4" y1="355.19" x2="681.3" y2="355.19"/><line x1="600.4" y1="348.09" x2="681.3" y2="348.09"/><line x1="600.4" y1="340.98" x2="681.3" y2="340.98"/><line x1="600.4" y1="333.87" x2="681.3" y2="333.87"/><line x1="600.4" y1="326.77" x2="681.3" y2="326.77"/><line x1="600.4" y1="319.66" x2="681.3" y2="319.66"/><line x1="600.4" y1="312.55" x2="681.3" y2="312.55"/><line x1="600.4" y1="305.45" x2="681.3" y2="305.45"/><line x1="600.4" y1="298.34" x2="681.3" y2="298.34"/><line x1="600.4" y1="291.23" x2="681.3" y2="291.23"/><line x1="600.4" y1="284.13" x2="681.3" y2="284.13"/><line x1="600.4" y1="277.02" x2="681.3" y2="277.02"/><line x1="600.4" y1="269.91" x2="681.3" y2="269.91"/><line x1="600.4" y1="262.81" x2="681.3" y2="262.81"/><line x1="600.4" y1="255.70" x2="681.3" y2="255.70"/><line x1="600.4" y1="248.59" x2="681.3" y2="248.59"/><line x1="600.4" y1="241.49" x2="681.3" y2="241.49"/><line x1="600.4" y1="234.38" x2="681.3" y2="234.38"/><line x1="600.4" y1="227.27" x2="681.3" y2="227.27"/><line x1="600.4" y1="220.17" x2="681.3" y2="220.17"/><line x1="600.4" y1="213.06" x2="681.3" y2="213.06"/><line x1="600.4" y1="205.95" x2="681.3" y2="205.95"/><line x1="600.4" y1="198.85" x2="681.3" y2="198.85"/><line x1="600.4" y1="191.74" x2="681.3" y2="191.74"/><line x1="600.4" y1="184.63" x2="681.3" y2="184.63"/><line x1="600.4" y1="177.53" x2="681.3" y2="177.53"/><line x1="600.4" y1="170.42" x2="681.3" y2="170.42"/><line x1="600.4" y1="163.31" x2="681.3" y2="163.31"/><line x1="600.4" y1="156.21" x2="681.3" y2="156.21"/><line x1="600.4" y1="149.10" x2="681.3" y2="149.10"/><line x1="600.4" y1="141.99" x2="681.3" y2="141.99"/><line x1="600.4" y1="134.89" x2="681.3" y2="134.89"/><line x1="600.4" y1="127.78" x2="681.3" y2="127.78"/><line x1="600.4" y1="120.67" x2="681.3" y2="120.67"/><line x1="600.4" y1="113.57" x2="681.3" y2="113.57"/><line x1="600.4" y1="106.46" x2="681.3" y2="106.46"/><line x1="600.4" y1="99.35" x2="681.3" y2="99.35"/><line x1="600.4" y1="92.25" x2="681.3" y2="92.25"/><line x1="600.4" y1="85.14" x2="681.3" y2="85.14"/><line x1="600.4" y1="78.03" x2="681.3" y2="78.03"/><line x1="600.4" y1="70.93" x2="681.3" y2="70.93"/><line x1="600.4" y1="63.82" x2="681.3" y2="63.82"/><line x1="600.4" y1="56.71" x2="681.3" y2="56.71"/><line x1="600.4" y1="49.61" x2="681.3" y2="49.61"/><line x1="607.14" y1="42.5" x2="607.14" y2="362.3"/><line x1="613.88" y1="42.5" x2="613.88" y2="362.3"/><line x1="620.62" y1="42.5" x2="620.62" y2="362.3"/><line x1="627.37" y1="42.5" x2="627.37" y2="362.3"/><line x1="634.11" y1="42.5" x2="634.11" y2="362.3"/><line x1="640.85" y1="42.5" x2="640.85" y2="362.3"/><line x1="647.59" y1="42.5" x2="647.59" y2="362.3"/><line x1="654.33" y1="42.5" x2="654.33" y2="362.3"/><line x1="661.07" y1="42.5" x2="661.07" y2="362.3"/><line x1="667.82" y1="42.5" x2="667.82" y2="362.3"/><line x1="674.56" y1="42.5" x2="674.56" y2="362.3"/></g>
<mask id="mb" maskUnits="userSpaceOnUse" x="280.5" y="37.5" width="90.80000000000001" height="329.8"><g fill="#fff"><rect x="285.80" y="46.05" width="2.50" height="2.90"/><rect x="286.82" y="48.50" width="7.18" height="1.35"/><rect x="286.11" y="49.45" width="5.99" height="1.35"/><rect x="287.54" y="50.40" width="7.15" height="1.60"/><rect x="287.95" y="51.60" width="6.23" height="1.60"/><rect x="287.03" y="52.80" width="10.60" height="1.40"/><rect x="287.52" y="53.80" width="7.26" height="1.40"/><rect x="287.00" y="54.80" width="8.06" height="1.40"/><rect x="287.87" y="55.80" width="10.95" height="1.40"/><rect x="288.13" y="56.80" width="11.55" height="1.40"/><rect x="287.04" y="57.80" width="9.96" height="1.40"/><rect x="301.00" y="56.25" width="8.00" height="1.30"/><rect x="311.00" y="57.05" width="3.00" height="1.80"/><rect x="288.35" y="58.80" width="11.55" height="1.73"/><rect x="288.16" y="60.13" width="8.09" height="1.73"/><rect x="288.21" y="61.47" width="10.93" height="1.73"/><rect x="301.00" y="59.25" width="7.00" height="1.50"/><rect x="287.97" y="62.80" width="17.42" height="1.48"/><rect x="288.29" y="63.88" width="15.45" height="1.48"/><rect x="287.98" y="64.96" width="16.59" height="1.48"/><rect x="288.25" y="66.04" width="16.37" height="1.48"/><rect x="287.73" y="67.12" width="16.62" height="1.48"/><rect x="305.50" y="63.75" width="3.00" height="2.50"/><rect x="313.50" y="65.05" width="1.70" height="1.70"/><rect x="290.17" y="68.20" width="6.75" height="1.52"/><rect x="289.72" y="69.32" width="7.92" height="1.52"/><rect x="290.53" y="70.44" width="5.82" height="1.52"/><rect x="289.90" y="71.56" width="9.66" height="1.52"/><rect x="290.35" y="72.68" width="7.00" height="1.52"/><rect x="290.61" y="73.80" width="3.66" height="1.65"/><rect x="290.90" y="75.05" width="3.59" height="1.65"/><rect x="290.81" y="76.30" width="4.84" height="1.65"/><rect x="291.12" y="77.55" width="3.27" height="1.65"/><rect x="291.41" y="78.80" width="3.41" height="1.40"/><rect x="290.99" y="79.80" width="4.65" height="1.40"/><rect x="291.20" y="80.80" width="3.11" height="1.40"/><rect x="290.76" y="81.80" width="7.42" height="1.40"/><rect x="290.91" y="82.80" width="5.67" height="1.40"/><rect x="287.53" y="83.80" width="8.60" height="1.73"/><rect x="287.93" y="85.13" width="7.70" height="1.73"/><rect x="287.47" y="86.47" width="8.11" height="1.73"/><rect x="286.54" y="87.80" width="10.81" height="1.40"/><rect x="287.34" y="88.80" width="11.78" height="1.40"/><rect x="287.21" y="89.80" width="8.16" height="1.40"/><rect x="286.00" y="90.80" width="16.42" height="1.40"/><rect x="286.98" y="91.80" width="15.01" height="1.40"/><rect x="286.45" y="92.80" width="14.47" height="1.40"/><rect x="300.00" y="92.25" width="9.80" height="2.00"/><rect x="286.78" y="93.80" width="20.18" height="1.47"/><rect x="287.64" y="94.87" width="20.70" height="1.47"/><rect x="287.05" y="95.93" width="21.04" height="1.47"/><rect x="287.16" y="97.00" width="22.17" height="1.47"/><rect x="286.51" y="98.07" width="20.06" height="1.47"/><rect x="287.48" y="99.13" width="19.78" height="1.47"/><rect x="290.89" y="100.20" width="31.27" height="1.30"/><rect x="290.62" y="101.10" width="31.84" height="1.30"/><rect x="310.91" y="102.00" width="11.34" height="1.65"/><rect x="311.44" y="103.25" width="12.83" height="1.65"/><rect x="310.64" y="104.50" width="18.98" height="1.65"/><rect x="310.98" y="105.75" width="18.90" height="1.65"/><rect x="310.42" y="107.00" width="6.32" height="1.60"/><rect x="310.75" y="108.20" width="5.50" height="1.60"/><rect x="288.25" y="109.40" width="27.00" height="1.43"/><rect x="287.98" y="110.43" width="29.61" height="1.43"/><rect x="288.40" y="111.47" width="28.59" height="1.43"/><rect x="292.36" y="112.50" width="5.05" height="1.30"/><rect x="292.38" y="113.40" width="5.22" height="1.30"/><rect x="292.41" y="114.30" width="16.57" height="1.43"/><rect x="291.50" y="115.33" width="15.81" height="1.43"/><rect x="291.42" y="116.37" width="18.52" height="1.43"/><rect x="310.70" y="117.40" width="11.98" height="1.50"/><rect x="311.15" y="118.50" width="14.11" height="1.50"/><rect x="310.48" y="119.60" width="13.84" height="1.50"/><rect x="311.03" y="120.70" width="14.03" height="1.50"/><rect x="325.70" y="120.05" width="2.10" height="1.40"/><rect x="304.50" y="117.75" width="11.50" height="1.70"/><rect x="311.13" y="119.00" width="15.70" height="1.40"/><rect x="311.35" y="120.00" width="13.31" height="1.40"/><rect x="310.87" y="121.00" width="13.34" height="1.45"/><rect x="310.76" y="122.05" width="14.64" height="1.45"/><rect x="308.73" y="123.10" width="7.87" height="1.45"/><rect x="309.58" y="124.15" width="8.06" height="1.45"/><rect x="310.00" y="125.15" width="6.00" height="1.50"/><rect x="303.15" y="126.20" width="10.81" height="1.47"/><rect x="303.88" y="127.27" width="9.70" height="1.47"/><rect x="302.92" y="128.33" width="13.00" height="1.47"/><rect x="311.16" y="129.40" width="5.59" height="1.43"/><rect x="311.15" y="130.43" width="5.57" height="1.43"/><rect x="310.95" y="131.47" width="4.53" height="1.43"/><rect x="317.17" y="132.50" width="12.75" height="1.45"/><rect x="316.62" y="133.55" width="10.99" height="1.45"/><rect x="302.40" y="134.25" width="6.30" height="1.30"/><rect x="312.78" y="135.10" width="4.75" height="2.10"/><rect x="316.69" y="136.80" width="7.93" height="1.40"/><rect x="316.76" y="137.80" width="8.12" height="1.40"/><rect x="318.36" y="138.80" width="13.41" height="1.50"/><rect x="319.05" y="139.90" width="9.08" height="1.50"/><rect x="316.00" y="140.95" width="25.80" height="2.00"/><rect x="318.00" y="142.45" width="12.00" height="1.60"/><rect x="315.03" y="143.60" width="8.34" height="1.70"/><rect x="315.13" y="144.90" width="8.23" height="1.70"/><rect x="305.50" y="146.20" width="7.64" height="1.47"/><rect x="305.01" y="147.27" width="10.02" height="1.47"/><rect x="305.05" y="148.33" width="7.57" height="1.47"/><rect x="300.35" y="149.40" width="5.62" height="1.43"/><rect x="299.41" y="150.43" width="7.40" height="1.43"/><rect x="300.37" y="151.47" width="5.45" height="1.43"/><rect x="301.91" y="152.50" width="4.97" height="1.55"/><rect x="301.72" y="153.65" width="6.00" height="1.55"/><rect x="302.11" y="154.80" width="8.01" height="1.45"/><rect x="301.53" y="155.85" width="7.83" height="1.45"/><rect x="302.10" y="156.90" width="8.35" height="1.45"/><rect x="301.90" y="157.95" width="7.92" height="1.45"/><rect x="310.80" y="154.75" width="4.20" height="1.70"/><rect x="300.80" y="163.75" width="8.20" height="1.50"/><rect x="302.35" y="187.40" width="7.37" height="1.40"/><rect x="301.32" y="188.40" width="6.49" height="1.40"/><rect x="304.00" y="189.75" width="10.60" height="2.10"/><rect x="305.39" y="191.40" width="4.63" height="1.63"/><rect x="305.94" y="192.63" width="2.60" height="1.63"/><rect x="305.26" y="193.87" width="4.50" height="1.63"/><rect x="291.41" y="195.10" width="14.20" height="1.43"/><rect x="290.81" y="196.13" width="13.76" height="1.43"/><rect x="291.22" y="197.17" width="13.55" height="1.43"/><rect x="301.58" y="198.20" width="3.63" height="1.47"/><rect x="301.27" y="199.27" width="4.45" height="1.47"/><rect x="300.60" y="200.33" width="5.42" height="1.47"/><rect x="297.76" y="201.40" width="4.17" height="1.45"/><rect x="298.22" y="202.45" width="4.05" height="1.45"/><rect x="297.94" y="203.50" width="4.14" height="1.45"/><rect x="297.85" y="204.55" width="5.38" height="1.45"/><rect x="290.72" y="205.60" width="15.61" height="1.44"/><rect x="291.06" y="206.64" width="14.92" height="1.44"/><rect x="290.66" y="207.68" width="18.60" height="1.44"/><rect x="290.05" y="208.72" width="19.34" height="1.44"/><rect x="291.04" y="209.76" width="18.47" height="1.44"/><rect x="309.80" y="208.25" width="2.20" height="2.00"/><rect x="289.99" y="210.80" width="6.97" height="1.49"/><rect x="289.74" y="211.89" width="8.95" height="1.49"/><rect x="289.45" y="212.98" width="7.54" height="1.49"/><rect x="289.27" y="214.06" width="8.53" height="1.49"/><rect x="289.32" y="215.15" width="10.37" height="1.49"/><rect x="289.68" y="216.24" width="6.89" height="1.49"/><rect x="289.55" y="217.32" width="6.89" height="1.49"/><rect x="289.94" y="218.41" width="8.99" height="1.49"/><rect x="285.71" y="219.50" width="8.47" height="1.59"/><rect x="285.81" y="220.69" width="9.01" height="1.59"/><rect x="286.76" y="221.87" width="10.28" height="1.59"/><rect x="285.99" y="223.06" width="11.35" height="1.59"/><rect x="286.21" y="224.24" width="7.34" height="1.59"/><rect x="285.90" y="225.43" width="11.14" height="1.59"/><rect x="286.59" y="226.61" width="9.94" height="1.59"/><rect x="290.99" y="227.80" width="5.37" height="1.61"/><rect x="291.06" y="229.01" width="4.65" height="1.61"/><rect x="290.25" y="230.23" width="4.22" height="1.61"/><rect x="290.47" y="231.44" width="5.53" height="1.61"/><rect x="290.68" y="232.66" width="5.68" height="1.61"/><rect x="289.91" y="233.87" width="6.59" height="1.61"/><rect x="290.25" y="235.09" width="4.04" height="1.61"/><rect x="289.54" y="236.30" width="4.84" height="1.52"/><rect x="289.08" y="237.43" width="5.98" height="1.52"/><rect x="290.16" y="238.55" width="3.46" height="1.52"/><rect x="289.13" y="239.68" width="4.36" height="1.52"/><rect x="289.74" y="240.80" width="5.55" height="1.52"/><rect x="289.65" y="241.93" width="3.82" height="1.52"/><rect x="289.79" y="243.05" width="4.37" height="1.52"/><rect x="289.65" y="244.18" width="5.53" height="1.52"/><rect x="289.30" y="245.30" width="5.77" height="1.52"/><rect x="289.34" y="246.43" width="6.27" height="1.52"/><rect x="289.54" y="247.55" width="3.92" height="1.52"/><rect x="289.77" y="248.68" width="4.48" height="1.52"/><rect x="298.77" y="274.80" width="5.17" height="1.51"/><rect x="298.69" y="275.91" width="7.11" height="1.51"/><rect x="299.32" y="277.02" width="6.45" height="1.51"/><rect x="298.66" y="278.13" width="5.41" height="1.51"/><rect x="298.95" y="279.24" width="6.76" height="1.51"/><rect x="299.02" y="280.36" width="5.98" height="1.51"/><rect x="298.32" y="281.47" width="7.65" height="1.51"/><rect x="298.39" y="282.58" width="7.60" height="1.51"/><rect x="298.39" y="283.69" width="6.69" height="1.51"/><rect x="306.70" y="278.75" width="4.30" height="1.80"/><polyline points="295.0,162.4 301.3,159.7" fill="none" stroke="#fff" stroke-width="2.4" stroke-linejoin="round" stroke-linecap="round"/><polyline points="309.7,165.0 318.0,166.5 328.7,168.7 318.0,169.4 310.8,169.7 305.5,170.8 307.0,173.0 309.7,175.0 321.3,177.6 316.0,179.7 309.7,180.3 316.0,181.8 324.5,184.0 337.0,184.6 324.5,185.2 316.0,186.6 310.8,188.7 308.7,191.8 305.5,195.0" fill="none" stroke="#fff" stroke-width="2.4" stroke-linejoin="round" stroke-linecap="round"/><polyline points="292.5,248.0 292.8,250.0 294.9,255.0 295.9,260.0 296.6,265.0 298.0,268.5 298.5,271.0 299.5,275.0 300.0,285.0 298.3,288.0 295.8,290.4 294.9,297.0 294.5,300.0 293.0,306.7 292.3,312.6 290.0,314.3 288.0,320.2 287.0,327.0 286.2,337.0" fill="none" stroke="#fff" stroke-width="2.4" stroke-linejoin="round" stroke-linecap="round"/></g></mask>
<g mask="url(#mb)"><rect x="282.5" y="42.5" width="7.7" height="319.8" fill="#12c43c"/><rect x="290.2" y="42.5" width="10.2" height="319.8" fill="#ffff00"/><rect x="300.4" y="42.5" width="10.2" height="319.8" fill="#ff9c00"/><rect x="310.6" y="42.5" width="15.2" height="319.8" fill="#ff0000"/><rect x="325.8" y="42.5" width="43.5" height="319.8" fill="#9c00ff"/></g>
<mask id="mc" maskUnits="userSpaceOnUse" x="385.3" y="37.5" width="90.89999999999998" height="329.8"><g fill="#fff"><rect x="391.34" y="45.20" width="4.98" height="2.00"/><rect x="390.30" y="46.80" width="18.36" height="1.70"/><rect x="391.08" y="48.10" width="12.90" height="1.70"/><rect x="410.00" y="49.35" width="4.00" height="2.90"/><rect x="390.57" y="49.40" width="14.91" height="1.58"/><rect x="390.93" y="50.58" width="14.94" height="1.58"/><rect x="390.39" y="51.76" width="15.62" height="1.58"/><rect x="390.67" y="52.94" width="16.24" height="1.58"/><rect x="391.39" y="54.12" width="13.77" height="1.58"/><rect x="410.15" y="50.80" width="3.55" height="1.40"/><rect x="409.82" y="51.80" width="5.00" height="1.40"/><rect x="409.53" y="52.80" width="6.19" height="1.40"/><rect x="390.58" y="55.30" width="31.63" height="1.65"/><rect x="391.27" y="56.55" width="31.45" height="1.65"/><rect x="390.87" y="57.80" width="30.97" height="1.65"/><rect x="390.23" y="59.05" width="33.35" height="1.65"/><rect x="425.00" y="56.25" width="3.50" height="2.00"/><rect x="430.00" y="57.25" width="1.60" height="1.80"/><rect x="433.00" y="55.95" width="1.50" height="1.90"/><rect x="441.30" y="57.05" width="1.50" height="1.90"/><rect x="446.50" y="57.05" width="1.50" height="1.90"/><rect x="460.60" y="57.05" width="1.50" height="1.90"/><rect x="442.00" y="65.45" width="1.50" height="1.90"/><rect x="453.00" y="64.65" width="1.50" height="1.90"/><rect x="390.36" y="60.30" width="33.59" height="1.47"/><rect x="391.40" y="61.37" width="31.44" height="1.47"/><rect x="390.42" y="62.44" width="31.43" height="1.47"/><rect x="391.16" y="63.51" width="29.38" height="1.47"/><rect x="391.29" y="64.59" width="30.21" height="1.47"/><rect x="391.15" y="65.66" width="30.17" height="1.47"/><rect x="391.38" y="66.73" width="32.40" height="1.47"/><rect x="426.70" y="62.25" width="1.30" height="1.50"/><rect x="433.50" y="66.25" width="1.50" height="1.50"/><rect x="437.00" y="63.25" width="1.50" height="1.50"/><rect x="390.39" y="67.80" width="8.96" height="1.50"/><rect x="391.06" y="68.90" width="9.30" height="1.50"/><rect x="390.84" y="70.00" width="10.93" height="1.50"/><rect x="391.31" y="71.10" width="10.32" height="1.50"/><rect x="391.20" y="72.20" width="10.38" height="1.50"/><rect x="391.26" y="73.30" width="11.03" height="1.50"/><rect x="390.75" y="74.40" width="8.90" height="1.50"/><rect x="392.50" y="75.50" width="13.09" height="1.52"/><rect x="391.98" y="76.62" width="12.67" height="1.52"/><rect x="391.79" y="77.73" width="15.88" height="1.52"/><rect x="391.60" y="78.85" width="13.20" height="1.52"/><rect x="391.72" y="79.97" width="11.83" height="1.52"/><rect x="391.77" y="81.08" width="11.76" height="1.52"/><rect x="411.80" y="81.55" width="1.40" height="1.70"/><rect x="391.35" y="82.20" width="11.11" height="1.60"/><rect x="391.12" y="83.40" width="14.05" height="1.60"/><rect x="391.21" y="84.60" width="13.09" height="1.60"/><rect x="390.75" y="85.80" width="15.58" height="1.60"/><rect x="391.62" y="87.00" width="13.51" height="1.60"/><rect x="390.59" y="88.20" width="13.87" height="1.60"/><rect x="391.37" y="89.40" width="11.91" height="1.60"/><rect x="412.40" y="90.05" width="1.40" height="1.70"/><rect x="390.73" y="90.60" width="13.32" height="1.58"/><rect x="390.57" y="91.78" width="14.46" height="1.58"/><rect x="390.83" y="92.96" width="14.75" height="1.58"/><rect x="391.55" y="94.14" width="16.59" height="1.58"/><rect x="391.13" y="95.32" width="17.74" height="1.58"/><rect x="391.69" y="96.50" width="28.18" height="1.58"/><rect x="392.46" y="97.68" width="31.28" height="1.58"/><rect x="392.26" y="98.86" width="30.20" height="1.58"/><rect x="391.83" y="100.04" width="32.97" height="1.58"/><rect x="392.21" y="101.22" width="31.76" height="1.58"/><rect x="426.15" y="97.30" width="3.71" height="1.73"/><rect x="425.88" y="98.63" width="4.08" height="1.73"/><rect x="425.31" y="99.97" width="4.66" height="1.73"/><rect x="431.00" y="97.75" width="5.00" height="2.00"/><rect x="443.00" y="99.25" width="3.50" height="2.00"/><rect x="460.00" y="98.25" width="1.50" height="1.90"/><rect x="394.89" y="99.80" width="34.53" height="1.65"/><rect x="395.53" y="101.05" width="37.67" height="1.65"/><rect x="404.05" y="104.00" width="18.63" height="1.67"/><rect x="404.18" y="105.27" width="14.88" height="1.67"/><rect x="404.41" y="106.55" width="20.37" height="1.67"/><rect x="404.89" y="107.83" width="16.42" height="1.67"/><rect x="425.40" y="104.80" width="10.93" height="1.40"/><rect x="425.54" y="105.80" width="11.13" height="1.40"/><rect x="425.89" y="106.80" width="7.75" height="1.40"/><rect x="392.31" y="109.10" width="11.28" height="2.10"/><rect x="393.85" y="110.80" width="10.32" height="1.40"/><rect x="393.27" y="111.80" width="13.08" height="1.40"/><rect x="396.38" y="112.80" width="9.61" height="1.40"/><rect x="396.54" y="113.80" width="12.00" height="1.40"/><rect x="396.15" y="114.80" width="8.87" height="1.40"/><rect x="402.77" y="115.80" width="5.57" height="1.65"/><rect x="402.47" y="117.05" width="6.06" height="1.65"/><rect x="407.71" y="119.20" width="11.53" height="1.58"/><rect x="407.90" y="120.38" width="13.46" height="1.58"/><rect x="408.07" y="121.56" width="16.82" height="1.58"/><rect x="407.47" y="122.74" width="16.69" height="1.58"/><rect x="407.59" y="123.92" width="17.21" height="1.58"/><rect x="425.76" y="119.80" width="10.64" height="1.65"/><rect x="426.18" y="121.05" width="8.52" height="1.65"/><rect x="407.69" y="125.10" width="10.18" height="1.52"/><rect x="407.03" y="126.22" width="14.99" height="1.52"/><rect x="407.21" y="127.33" width="14.71" height="1.52"/><rect x="407.46" y="128.45" width="12.25" height="1.52"/><rect x="406.81" y="129.57" width="12.40" height="1.52"/><rect x="407.13" y="130.68" width="13.77" height="1.52"/><rect x="406.54" y="131.80" width="16.83" height="1.52"/><rect x="406.63" y="132.92" width="14.35" height="1.52"/><rect x="406.79" y="134.03" width="12.33" height="1.52"/><rect x="406.72" y="135.15" width="16.09" height="1.52"/><rect x="406.76" y="136.27" width="15.27" height="1.52"/><rect x="407.06" y="137.38" width="13.26" height="1.52"/><rect x="412.37" y="138.50" width="14.97" height="1.50"/><rect x="412.69" y="139.60" width="15.24" height="1.50"/><rect x="412.47" y="140.70" width="10.95" height="1.50"/><rect x="433.50" y="139.25" width="4.20" height="1.80"/><rect x="406.31" y="141.80" width="13.64" height="1.61"/><rect x="405.76" y="143.01" width="13.32" height="1.61"/><rect x="406.33" y="144.23" width="13.71" height="1.61"/><rect x="405.81" y="145.44" width="15.62" height="1.61"/><rect x="406.14" y="146.66" width="11.64" height="1.61"/><rect x="406.81" y="147.87" width="12.64" height="1.61"/><rect x="406.05" y="149.09" width="12.86" height="1.61"/><rect x="406.15" y="150.30" width="10.05" height="1.61"/><rect x="406.52" y="151.51" width="15.07" height="1.61"/><rect x="406.07" y="152.73" width="15.07" height="1.61"/><rect x="406.51" y="153.94" width="10.49" height="1.61"/><rect x="406.24" y="155.16" width="15.37" height="1.61"/><rect x="406.28" y="156.37" width="13.12" height="1.61"/><rect x="406.41" y="157.59" width="14.13" height="1.61"/><rect x="400.14" y="158.80" width="16.02" height="1.65"/><rect x="400.92" y="160.05" width="13.49" height="1.65"/><rect x="400.71" y="161.30" width="15.44" height="1.65"/><rect x="400.49" y="162.55" width="14.98" height="1.65"/><rect x="400.36" y="159.80" width="11.09" height="1.65"/><rect x="400.27" y="161.05" width="9.47" height="1.65"/><rect x="402.45" y="162.30" width="12.97" height="1.45"/><rect x="403.32" y="163.35" width="12.29" height="1.45"/><rect x="403.45" y="164.40" width="9.47" height="1.45"/><rect x="402.33" y="165.45" width="10.35" height="1.45"/><rect x="409.93" y="165.50" width="11.38" height="1.75"/><rect x="409.60" y="166.85" width="11.35" height="1.75"/><rect x="426.00" y="166.55" width="11.70" height="1.70"/><rect x="411.25" y="166.50" width="6.80" height="1.59"/><rect x="411.02" y="167.69" width="5.73" height="1.59"/><rect x="411.27" y="168.87" width="6.28" height="1.59"/><rect x="411.67" y="170.06" width="4.63" height="1.59"/><rect x="411.70" y="171.24" width="4.66" height="1.59"/><rect x="410.98" y="172.43" width="7.25" height="1.59"/><rect x="411.01" y="173.61" width="6.65" height="1.59"/><rect x="417.41" y="174.80" width="24.42" height="1.57"/><rect x="417.30" y="175.97" width="21.59" height="1.57"/><rect x="416.72" y="177.13" width="22.78" height="1.57"/><rect x="417.80" y="178.30" width="21.97" height="1.57"/><rect x="417.10" y="179.47" width="23.92" height="1.57"/><rect x="416.70" y="180.63" width="24.80" height="1.57"/><rect x="427.09" y="181.80" width="16.14" height="1.40"/><rect x="426.05" y="182.80" width="18.66" height="1.40"/><rect x="426.18" y="183.80" width="20.64" height="1.40"/><rect x="404.82" y="184.80" width="29.66" height="1.52"/><rect x="404.63" y="185.93" width="31.24" height="1.52"/><rect x="404.65" y="187.05" width="33.18" height="1.52"/><rect x="404.91" y="188.18" width="27.89" height="1.52"/><rect x="404.62" y="189.30" width="19.80" height="1.65"/><rect x="404.31" y="190.55" width="16.40" height="1.65"/><rect x="400.35" y="191.80" width="18.48" height="1.47"/><rect x="400.28" y="192.87" width="19.70" height="1.47"/><rect x="400.74" y="193.94" width="17.49" height="1.47"/><rect x="399.97" y="195.01" width="20.79" height="1.47"/><rect x="399.84" y="196.09" width="21.72" height="1.47"/><rect x="400.86" y="197.16" width="19.77" height="1.47"/><rect x="400.41" y="198.23" width="22.71" height="1.47"/><rect x="396.40" y="195.35" width="2.50" height="1.70"/><rect x="400.29" y="199.30" width="6.50" height="1.60"/><rect x="400.92" y="200.50" width="5.19" height="1.60"/><rect x="400.37" y="201.70" width="5.76" height="1.60"/><rect x="400.20" y="202.90" width="5.17" height="1.60"/><rect x="400.59" y="204.10" width="5.42" height="1.60"/><rect x="393.22" y="205.30" width="11.71" height="1.65"/><rect x="392.95" y="206.55" width="15.20" height="1.65"/><rect x="393.00" y="207.80" width="14.08" height="1.65"/><rect x="392.96" y="209.05" width="10.67" height="1.65"/><rect x="409.50" y="208.75" width="14.50" height="1.80"/><rect x="396.16" y="210.30" width="12.79" height="1.48"/><rect x="396.66" y="211.38" width="9.00" height="1.48"/><rect x="396.58" y="212.47" width="9.37" height="1.48"/><rect x="396.73" y="213.55" width="12.19" height="1.48"/><rect x="396.33" y="214.63" width="9.25" height="1.48"/><rect x="396.66" y="215.72" width="8.09" height="1.48"/><rect x="410.70" y="216.05" width="6.80" height="1.70"/><rect x="393.18" y="216.80" width="16.12" height="1.57"/><rect x="392.44" y="217.97" width="12.86" height="1.57"/><rect x="392.90" y="219.13" width="12.53" height="1.57"/><rect x="393.17" y="220.30" width="15.59" height="1.57"/><rect x="392.93" y="221.47" width="16.14" height="1.57"/><rect x="392.50" y="222.63" width="14.79" height="1.57"/><rect x="391.06" y="223.80" width="14.54" height="1.63"/><rect x="391.66" y="225.03" width="16.11" height="1.63"/><rect x="390.50" y="226.26" width="18.06" height="1.63"/><rect x="391.50" y="227.49" width="14.58" height="1.63"/><rect x="391.41" y="228.71" width="13.64" height="1.63"/><rect x="391.31" y="229.94" width="14.78" height="1.63"/><rect x="390.82" y="231.17" width="16.17" height="1.63"/><rect x="399.83" y="232.40" width="6.23" height="1.53"/><rect x="400.70" y="233.53" width="6.48" height="1.53"/><rect x="400.70" y="234.67" width="6.24" height="1.53"/><rect x="400.29" y="235.80" width="5.03" height="1.53"/><rect x="400.74" y="236.93" width="4.86" height="1.53"/><rect x="399.96" y="238.07" width="5.14" height="1.53"/><rect x="393.46" y="239.20" width="12.27" height="1.50"/><rect x="393.35" y="240.30" width="10.95" height="1.50"/><rect x="393.67" y="241.40" width="12.78" height="1.50"/><rect x="400.24" y="242.50" width="3.00" height="1.55"/><rect x="400.26" y="243.65" width="3.76" height="1.55"/><rect x="391.54" y="244.80" width="11.04" height="1.60"/><rect x="391.28" y="246.00" width="11.98" height="1.60"/><rect x="391.15" y="247.20" width="11.23" height="1.60"/><rect x="397.39" y="248.40" width="7.32" height="1.63"/><rect x="397.67" y="249.63" width="7.39" height="1.63"/><rect x="398.26" y="250.87" width="7.48" height="1.63"/><rect x="397.77" y="252.10" width="7.94" height="1.63"/><rect x="397.41" y="253.33" width="7.58" height="1.63"/><rect x="397.77" y="254.57" width="8.01" height="1.63"/><rect x="400.82" y="255.80" width="6.47" height="1.52"/><rect x="400.55" y="256.92" width="5.88" height="1.52"/><rect x="400.08" y="258.03" width="7.93" height="1.52"/><rect x="400.08" y="259.15" width="7.45" height="1.52"/><rect x="400.95" y="260.26" width="7.16" height="1.52"/><rect x="400.78" y="261.38" width="7.86" height="1.52"/><rect x="400.24" y="262.49" width="7.54" height="1.52"/><rect x="399.89" y="263.61" width="8.08" height="1.52"/><rect x="400.00" y="264.72" width="7.53" height="1.52"/><rect x="400.15" y="265.84" width="7.43" height="1.52"/><rect x="400.91" y="266.95" width="5.21" height="1.52"/><rect x="400.57" y="268.07" width="7.01" height="1.52"/><rect x="400.19" y="269.18" width="5.82" height="1.52"/><rect x="405.09" y="270.30" width="8.69" height="1.65"/><rect x="405.61" y="271.55" width="7.87" height="1.65"/><rect x="405.23" y="272.80" width="7.66" height="1.65"/><rect x="405.08" y="274.05" width="6.43" height="1.65"/><rect x="401.36" y="275.30" width="18.79" height="1.48"/><rect x="401.59" y="276.38" width="21.01" height="1.48"/><rect x="401.65" y="277.45" width="21.29" height="1.48"/><rect x="401.20" y="278.53" width="18.24" height="1.48"/><rect x="402.64" y="279.60" width="9.03" height="1.44"/><rect x="402.40" y="280.64" width="9.02" height="1.44"/><rect x="402.62" y="281.68" width="8.20" height="1.44"/><rect x="402.67" y="282.72" width="8.69" height="1.44"/><rect x="402.25" y="283.76" width="11.29" height="1.44"/><rect x="402.74" y="284.80" width="4.07" height="1.65"/><rect x="402.51" y="286.05" width="4.87" height="1.65"/><rect x="402.72" y="287.30" width="3.50" height="1.65"/><rect x="403.37" y="288.55" width="3.84" height="1.65"/><rect x="405.15" y="289.80" width="4.36" height="1.57"/><rect x="404.03" y="290.97" width="5.60" height="1.57"/><rect x="404.43" y="292.13" width="4.74" height="1.57"/><rect x="405.06" y="293.30" width="2.95" height="1.57"/><rect x="404.52" y="294.47" width="3.80" height="1.57"/><rect x="404.28" y="295.63" width="4.50" height="1.57"/><rect x="405.27" y="296.80" width="2.51" height="1.50"/><rect x="405.57" y="297.90" width="3.02" height="1.50"/><rect x="405.18" y="299.00" width="3.60" height="1.50"/><rect x="404.91" y="300.10" width="2.72" height="1.50"/><rect x="405.05" y="301.20" width="3.75" height="1.50"/><rect x="405.30" y="302.30" width="3.33" height="1.50"/><rect x="405.21" y="303.40" width="6.52" height="1.53"/><rect x="405.09" y="304.53" width="6.66" height="1.53"/><rect x="405.20" y="305.67" width="5.57" height="1.53"/><rect x="400.72" y="306.80" width="4.90" height="1.73"/><rect x="399.97" y="308.13" width="6.38" height="1.73"/><rect x="400.32" y="309.47" width="4.19" height="1.73"/><polyline points="399.0,310.0 397.3,312.0 394.7,317.0 392.2,323.8 390.8,330.5 390.6,337.2" fill="none" stroke="#fff" stroke-width="3.0" stroke-linejoin="round" stroke-linecap="round"/></g></mask>
<g mask="url(#mc)"><rect x="387.3" y="42.5" width="12.1" height="319.8" fill="#12c43c"/><rect x="399.4" y="42.5" width="10.1" height="319.8" fill="#ffff00"/><rect x="409.5" y="42.5" width="15.5" height="319.8" fill="#ff9c00"/><rect x="425" y="42.5" width="15.0" height="319.8" fill="#ff0000"/><rect x="440" y="42.5" width="34.2" height="319.8" fill="#9c00ff"/></g>
<mask id="md" maskUnits="userSpaceOnUse" x="490.3" y="37.5" width="90.90000000000003" height="329.8"><g fill="#fff"><rect x="494.70" y="46.25" width="5.30" height="2.00"/><rect x="502.00" y="45.75" width="4.00" height="2.00"/><rect x="508.14" y="46.80" width="5.38" height="1.40"/><rect x="508.27" y="47.80" width="4.99" height="1.40"/><rect x="520.53" y="48.50" width="25.41" height="1.70"/><rect x="526.83" y="49.80" width="20.34" height="1.70"/><rect x="517.01" y="51.10" width="29.67" height="1.65"/><rect x="519.13" y="52.35" width="26.08" height="1.65"/><rect x="519.19" y="53.60" width="26.34" height="1.65"/><rect x="516.26" y="54.85" width="29.67" height="1.65"/><rect x="548.80" y="52.25" width="1.40" height="1.60"/><rect x="517.81" y="56.10" width="45.42" height="1.53"/><rect x="516.67" y="57.23" width="46.78" height="1.53"/><rect x="510.58" y="58.37" width="52.58" height="1.53"/><rect x="499.70" y="56.75" width="9.30" height="2.00"/><rect x="525.32" y="59.50" width="33.46" height="1.47"/><rect x="520.28" y="60.58" width="39.42" height="1.47"/><rect x="524.25" y="61.65" width="34.31" height="1.47"/><rect x="527.91" y="62.72" width="30.95" height="1.47"/><rect x="531.29" y="63.80" width="21.68" height="1.50"/><rect x="530.21" y="64.90" width="23.40" height="1.50"/><rect x="531.42" y="66.00" width="22.09" height="1.50"/><rect x="503.00" y="60.25" width="4.00" height="1.50"/><rect x="508.00" y="62.25" width="4.00" height="1.50"/><rect x="505.00" y="64.25" width="11.00" height="1.50"/><rect x="562.00" y="66.55" width="2.50" height="1.70"/><rect x="525.76" y="67.10" width="23.48" height="1.47"/><rect x="526.69" y="68.17" width="24.04" height="1.47"/><rect x="528.40" y="69.24" width="20.67" height="1.47"/><rect x="527.35" y="70.31" width="22.40" height="1.47"/><rect x="528.01" y="71.39" width="21.98" height="1.47"/><rect x="529.56" y="72.46" width="20.73" height="1.47"/><rect x="532.05" y="73.53" width="17.78" height="1.47"/><rect x="533.58" y="74.60" width="12.05" height="1.58"/><rect x="533.93" y="75.78" width="11.36" height="1.58"/><rect x="529.31" y="76.96" width="16.35" height="1.58"/><rect x="533.78" y="78.14" width="11.50" height="1.58"/><rect x="531.58" y="79.32" width="13.61" height="1.58"/><rect x="532.68" y="80.50" width="13.09" height="1.67"/><rect x="534.37" y="81.77" width="11.17" height="1.67"/><rect x="532.00" y="83.05" width="14.63" height="1.67"/><rect x="536.30" y="84.33" width="9.19" height="1.67"/><rect x="547.20" y="83.25" width="4.80" height="2.00"/><rect x="522.11" y="85.60" width="22.92" height="1.65"/><rect x="516.26" y="86.85" width="28.12" height="1.65"/><rect x="521.82" y="88.10" width="22.79" height="1.65"/><rect x="515.30" y="89.35" width="28.16" height="1.65"/><rect x="513.40" y="90.60" width="37.27" height="1.44"/><rect x="515.98" y="91.64" width="34.48" height="1.44"/><rect x="521.83" y="92.68" width="28.31" height="1.44"/><rect x="521.99" y="93.72" width="28.90" height="1.44"/><rect x="513.69" y="94.76" width="37.59" height="1.44"/><rect x="503.00" y="91.75" width="4.00" height="1.50"/><rect x="507.00" y="93.75" width="5.00" height="1.50"/><rect x="513.48" y="95.80" width="52.32" height="1.50"/><rect x="516.87" y="96.90" width="49.73" height="1.50"/><rect x="514.61" y="98.00" width="51.17" height="1.50"/><rect x="521.01" y="99.10" width="45.91" height="1.50"/><rect x="521.83" y="100.20" width="44.54" height="1.50"/><rect x="516.60" y="101.30" width="48.61" height="1.50"/><rect x="556.63" y="102.40" width="11.15" height="2.00"/><rect x="530.36" y="99.80" width="35.35" height="1.65"/><rect x="530.58" y="101.05" width="35.30" height="1.65"/><rect x="556.58" y="104.00" width="10.24" height="1.67"/><rect x="557.49" y="105.27" width="10.35" height="1.67"/><rect x="555.69" y="106.55" width="12.53" height="1.67"/><rect x="556.64" y="107.83" width="10.11" height="1.67"/><rect x="513.30" y="109.10" width="45.90" height="1.65"/><rect x="518.42" y="110.35" width="41.05" height="1.65"/><rect x="525.14" y="111.60" width="22.62" height="1.65"/><rect x="520.50" y="112.85" width="26.03" height="1.65"/><rect x="526.70" y="114.05" width="21.10" height="1.20"/><rect x="550.24" y="114.80" width="8.81" height="1.50"/><rect x="549.84" y="115.90" width="9.10" height="1.50"/><rect x="551.19" y="117.00" width="7.70" height="1.50"/><rect x="548.81" y="118.10" width="11.44" height="1.50"/><rect x="558.22" y="119.20" width="10.02" height="1.45"/><rect x="555.79" y="120.25" width="13.31" height="1.45"/><rect x="555.14" y="121.30" width="13.28" height="1.45"/><rect x="555.10" y="122.35" width="13.77" height="1.45"/><rect x="552.40" y="123.40" width="13.06" height="1.52"/><rect x="551.30" y="124.52" width="14.30" height="1.52"/><rect x="549.54" y="125.63" width="15.12" height="1.52"/><rect x="553.11" y="126.75" width="11.96" height="1.52"/><rect x="550.52" y="127.87" width="15.06" height="1.52"/><rect x="550.60" y="128.98" width="13.99" height="1.52"/><rect x="555.84" y="130.10" width="9.19" height="1.52"/><rect x="554.74" y="131.22" width="9.27" height="1.52"/><rect x="555.50" y="132.33" width="9.25" height="1.52"/><rect x="555.85" y="133.45" width="7.89" height="1.52"/><rect x="554.96" y="134.57" width="8.73" height="1.52"/><rect x="556.55" y="135.68" width="8.18" height="1.52"/><rect x="556.78" y="136.80" width="7.66" height="1.53"/><rect x="555.70" y="137.93" width="10.05" height="1.53"/><rect x="555.92" y="139.07" width="9.22" height="1.53"/><rect x="558.04" y="140.20" width="6.54" height="1.53"/><rect x="556.21" y="141.33" width="9.62" height="1.53"/><rect x="557.40" y="142.47" width="7.19" height="1.53"/><rect x="552.32" y="143.60" width="9.77" height="1.52"/><rect x="552.11" y="144.72" width="11.33" height="1.52"/><rect x="552.03" y="145.83" width="10.08" height="1.52"/><rect x="552.59" y="146.95" width="10.42" height="1.52"/><rect x="552.56" y="148.07" width="10.30" height="1.52"/><rect x="551.59" y="149.18" width="10.26" height="1.52"/><rect x="556.55" y="150.30" width="5.44" height="1.61"/><rect x="556.65" y="151.51" width="3.59" height="1.61"/><rect x="556.57" y="152.73" width="4.56" height="1.61"/><rect x="554.91" y="153.94" width="5.24" height="1.61"/><rect x="556.31" y="155.16" width="4.20" height="1.61"/><rect x="555.58" y="156.37" width="5.09" height="1.61"/><rect x="555.18" y="157.59" width="6.24" height="1.61"/><rect x="547.12" y="158.80" width="10.22" height="1.65"/><rect x="547.84" y="160.05" width="8.78" height="1.65"/><rect x="547.05" y="161.30" width="9.13" height="1.65"/><rect x="549.17" y="162.55" width="6.82" height="1.65"/><rect x="548.26" y="159.80" width="4.29" height="1.53"/><rect x="547.45" y="160.93" width="5.15" height="1.53"/><rect x="547.88" y="162.07" width="6.50" height="1.53"/><rect x="549.12" y="163.20" width="4.93" height="1.50"/><rect x="549.51" y="164.30" width="3.56" height="1.50"/><rect x="550.23" y="165.40" width="3.34" height="1.50"/><rect x="550.61" y="166.50" width="9.37" height="1.50"/><rect x="552.45" y="167.60" width="8.24" height="1.50"/><rect x="552.17" y="168.70" width="8.08" height="1.50"/><rect x="555.60" y="169.80" width="4.09" height="1.65"/><rect x="556.53" y="171.05" width="2.84" height="1.65"/><rect x="556.49" y="172.30" width="3.51" height="1.65"/><rect x="556.51" y="173.55" width="2.18" height="1.65"/><rect x="560.32" y="174.80" width="5.04" height="1.57"/><rect x="562.03" y="175.97" width="3.71" height="1.57"/><rect x="560.85" y="177.13" width="6.05" height="1.57"/><rect x="558.33" y="178.30" width="6.53" height="1.57"/><rect x="558.19" y="179.47" width="6.36" height="1.57"/><rect x="557.00" y="180.63" width="6.84" height="1.57"/><rect x="560.78" y="181.80" width="12.11" height="1.40"/><rect x="560.56" y="182.80" width="12.19" height="1.40"/><rect x="563.56" y="183.80" width="7.50" height="1.40"/><rect x="557.91" y="184.80" width="10.61" height="1.60"/><rect x="557.20" y="186.00" width="10.87" height="1.60"/><rect x="558.46" y="187.20" width="9.53" height="1.60"/><rect x="552.37" y="188.40" width="10.15" height="1.53"/><rect x="552.25" y="189.53" width="11.07" height="1.53"/><rect x="553.12" y="190.67" width="10.34" height="1.53"/><rect x="549.05" y="191.80" width="9.02" height="1.45"/><rect x="548.33" y="192.85" width="11.01" height="1.45"/><rect x="549.84" y="193.90" width="8.91" height="1.45"/><rect x="549.05" y="194.95" width="8.89" height="1.45"/><rect x="540.75" y="195.80" width="19.05" height="1.30"/><rect x="538.84" y="196.70" width="21.70" height="1.30"/><rect x="543.49" y="197.60" width="8.32" height="1.50"/><rect x="543.46" y="198.70" width="8.50" height="1.50"/><rect x="541.87" y="199.80" width="10.01" height="1.50"/><rect x="543.46" y="200.90" width="8.27" height="1.50"/><rect x="542.50" y="202.00" width="10.15" height="1.50"/><rect x="544.11" y="203.10" width="7.83" height="1.50"/><rect x="542.32" y="204.20" width="8.60" height="1.50"/><rect x="519.50" y="205.35" width="21.50" height="1.70"/><rect x="528.00" y="206.55" width="24.80" height="1.70"/><rect x="541.00" y="207.75" width="11.80" height="1.90"/><rect x="541.00" y="209.15" width="23.00" height="2.10"/><rect x="543.80" y="210.80" width="7.20" height="1.57"/><rect x="542.64" y="211.98" width="9.63" height="1.57"/><rect x="543.88" y="213.15" width="8.67" height="1.57"/><rect x="544.14" y="214.32" width="7.33" height="1.57"/><rect x="536.17" y="215.50" width="15.05" height="2.00"/><rect x="542.86" y="217.10" width="7.67" height="1.73"/><rect x="542.94" y="218.43" width="8.85" height="1.73"/><rect x="541.47" y="219.77" width="10.52" height="1.73"/><rect x="509.20" y="221.15" width="31.80" height="2.00"/><rect x="525.00" y="222.65" width="16.00" height="1.40"/><rect x="541.16" y="221.10" width="10.09" height="1.57"/><rect x="541.35" y="222.28" width="11.26" height="1.57"/><rect x="541.63" y="223.45" width="9.40" height="1.57"/><rect x="543.98" y="224.62" width="8.77" height="1.57"/><rect x="512.90" y="225.80" width="39.66" height="1.60"/><rect x="512.83" y="227.00" width="38.63" height="1.60"/><rect x="514.00" y="228.35" width="27.00" height="1.50"/><rect x="520.00" y="229.75" width="21.00" height="1.70"/><rect x="542.74" y="228.20" width="6.36" height="1.70"/><rect x="541.11" y="229.50" width="8.29" height="1.70"/><rect x="542.53" y="230.80" width="6.93" height="1.70"/><rect x="534.50" y="232.05" width="16.50" height="2.10"/><rect x="542.68" y="233.70" width="3.95" height="1.66"/><rect x="544.04" y="234.96" width="2.52" height="1.66"/><rect x="543.04" y="236.22" width="4.85" height="1.66"/><rect x="543.87" y="237.48" width="3.05" height="1.66"/><rect x="542.80" y="238.74" width="4.74" height="1.66"/><rect x="527.58" y="240.00" width="17.92" height="2.00"/><rect x="542.59" y="241.60" width="3.09" height="1.73"/><rect x="542.59" y="242.93" width="3.76" height="1.73"/><rect x="542.63" y="244.27" width="3.76" height="1.73"/><rect x="507.60" y="245.55" width="39.60" height="1.90"/><rect x="520.00" y="246.95" width="21.00" height="1.40"/><rect x="541.06" y="247.90" width="9.78" height="1.53"/><rect x="540.75" y="249.03" width="8.30" height="1.53"/><rect x="539.86" y="250.16" width="9.64" height="1.53"/><rect x="541.95" y="251.29" width="7.66" height="1.53"/><rect x="541.11" y="252.41" width="8.54" height="1.53"/><rect x="541.56" y="253.54" width="8.48" height="1.53"/><rect x="539.82" y="254.67" width="9.38" height="1.53"/><rect x="545.41" y="255.80" width="6.40" height="1.60"/><rect x="544.82" y="257.00" width="5.35" height="1.60"/><rect x="545.33" y="258.20" width="5.78" height="1.60"/><rect x="544.18" y="259.40" width="7.45" height="1.60"/><rect x="544.99" y="260.60" width="6.61" height="1.60"/><rect x="543.21" y="261.80" width="6.16" height="1.65"/><rect x="544.79" y="263.05" width="3.83" height="1.65"/><rect x="544.24" y="264.30" width="5.16" height="1.65"/><rect x="544.57" y="265.55" width="4.60" height="1.65"/><rect x="547.71" y="266.80" width="4.72" height="1.57"/><rect x="547.24" y="267.97" width="5.92" height="1.57"/><rect x="547.93" y="269.13" width="4.71" height="1.57"/><rect x="554.87" y="270.30" width="3.58" height="1.65"/><rect x="555.40" y="271.55" width="2.82" height="1.65"/><rect x="555.68" y="272.80" width="2.81" height="1.65"/><rect x="555.17" y="274.05" width="2.81" height="1.65"/><rect x="551.91" y="275.30" width="11.66" height="1.68"/><rect x="550.51" y="276.57" width="12.35" height="1.68"/><rect x="551.33" y="277.85" width="12.21" height="1.68"/><rect x="549.72" y="279.13" width="13.07" height="1.68"/><rect x="554.87" y="280.40" width="2.00" height="1.50"/><rect x="553.90" y="281.50" width="3.38" height="1.50"/><rect x="554.55" y="282.60" width="3.09" height="1.50"/><rect x="554.87" y="283.70" width="2.09" height="1.50"/><rect x="553.60" y="294.25" width="3.40" height="2.00"/><rect x="553.91" y="304.30" width="2.64" height="1.50"/><rect x="553.93" y="305.40" width="3.60" height="1.50"/><rect x="554.49" y="306.50" width="3.04" height="1.50"/><rect x="546.35" y="307.60" width="2.15" height="1.47"/><rect x="546.30" y="308.67" width="3.26" height="1.47"/><rect x="545.63" y="309.73" width="3.82" height="1.47"/><polyline points="551.0,280.0 553.0,283.0 551.0,286.0 549.0,290.0 551.0,294.0 548.5,298.0 550.0,302.0 549.0,306.0 548.0,309.0" fill="none" stroke="#fff" stroke-width="3.4" stroke-linejoin="round" stroke-linecap="round"/><polyline points="545.0,309.5 540.0,314.0 537.0,318.0 531.0,321.5 522.0,324.5 516.0,327.0 511.0,330.5 506.0,334.0 503.2,335.8" fill="none" stroke="#fff" stroke-width="3.4" stroke-linejoin="round" stroke-linecap="round"/></g></mask>
<g mask="url(#md)"><rect x="492.3" y="42.5" width="49.2" height="319.8" fill="#12c43c"/><rect x="541.5" y="42.5" width="5.7" height="319.8" fill="#ffff00"/><rect x="547.2" y="42.5" width="7.2" height="319.8" fill="#ff9c00"/><rect x="554.4" y="42.5" width="5.9" height="319.8" fill="#ff0000"/><rect x="560.3" y="42.5" width="18.9" height="319.8" fill="#9c00ff"/></g>
<mask id="me" maskUnits="userSpaceOnUse" x="595.4" y="37.5" width="90.89999999999998" height="329.8"><g fill="#fff"><rect x="661.30" y="48.95" width="2.70" height="1.90"/><rect x="665.50" y="49.25" width="3.00" height="1.90"/><rect x="670.00" y="48.95" width="3.00" height="1.90"/><rect x="674.50" y="49.05" width="2.60" height="1.90"/><rect x="679.60" y="48.55" width="1.70" height="1.90"/><rect x="679.60" y="93.55" width="1.70" height="1.90"/><rect x="654.20" y="53.25" width="16.60" height="6.80"/><rect x="654.20" y="61.95" width="12.70" height="7.60"/><rect x="654.20" y="85.65" width="18.20" height="2.80"/><rect x="654.20" y="90.35" width="13.80" height="1.90"/><rect x="656.00" y="92.05" width="16.00" height="1.70"/><rect x="658.00" y="93.75" width="19.10" height="1.80"/><rect x="655.80" y="76.15" width="1.60" height="1.50"/><rect x="645.50" y="87.75" width="8.70" height="2.30"/><rect x="639.20" y="89.95" width="15.00" height="1.70"/><rect x="635.30" y="91.75" width="18.90" height="1.70"/><rect x="634.50" y="93.75" width="18.90" height="1.90"/><rect x="632.00" y="95.75" width="18.00" height="1.70"/><rect x="628.50" y="97.25" width="12.50" height="1.80"/><rect x="626.50" y="98.75" width="10.50" height="2.10"/><rect x="626.20" y="100.55" width="10.50" height="1.90"/><polygon points="654.2,49.6 650.3,50.8 647.1,52.5 644.5,55.0 643.4,58.2 644.0,60.8 647.9,61.6 649.3,63.2 648.5,66.1 649.3,69.3 648.5,72.4 648.2,75.6 647.7,78.8 645.3,82.7 646.1,84.5 650.3,86.2 654.2,87.0 654.2,85.2 652.6,84.0 652.6,70.0 654.2,67.0"/><polyline points="625.2,101.3 627.6,101.7" fill="none" stroke="#fff" stroke-width="2.2" stroke-linejoin="round" stroke-linecap="round"/><polyline points="626.2,100.8 622.1,106.0 623.5,110.2 626.2,113.0 626.2,117.1 623.5,122.6 622.1,128.1 620.7,133.7 619.3,142.0 618.0,150.2 620.7,155.8 624.9,161.3 626.2,162.7 622.1,169.6 618.0,177.9 615.2,183.4 612.4,188.9 615.2,193.0 619.3,197.2 626.2,198.6 627.6,197.6 631.5,198.5 635.9,200.5 636.8,203.8 635.9,207.1 631.7,210.5" fill="none" stroke="#fff" stroke-width="2.2" stroke-linejoin="round" stroke-linecap="round"/><polyline points="627.5,109.8 642.6,111.2" fill="none" stroke="#fff" stroke-width="2.2" stroke-linejoin="round" stroke-linecap="round"/><polyline points="627.5,113.0 641.5,109.5" fill="none" stroke="#fff" stroke-width="2.2" stroke-linejoin="round" stroke-linecap="round"/><polyline points="628.0,111.5 642.0,113.8" fill="none" stroke="#fff" stroke-width="2.2" stroke-linejoin="round" stroke-linecap="round"/><polyline points="636.3,207.5 649.3,205.8" fill="none" stroke="#fff" stroke-width="2.2" stroke-linejoin="round" stroke-linecap="round"/><polyline points="645.1,207.5 646.8,213.9 642.6,217.2 641.0,220.6 644.3,224.2 646.8,226.7 648.5,230.0 653.6,233.5 654.6,236.8 655.5,245.0 656.1,255.4 641.0,284.0 642.6,282.5" fill="none" stroke="#fff" stroke-width="2.2" stroke-linejoin="round" stroke-linecap="round"/><polyline points="644.3,224.2 655.2,222.5" fill="none" stroke="#fff" stroke-width="2.2" stroke-linejoin="round" stroke-linecap="round"/><polyline points="646.8,227.6 670.4,227.6" fill="none" stroke="#fff" stroke-width="2.2" stroke-linejoin="round" stroke-linecap="round"/><polyline points="655.2,231.0 662.0,229.3" fill="none" stroke="#fff" stroke-width="2.2" stroke-linejoin="round" stroke-linecap="round"/><polyline points="655.2,241.0 662.8,241.0" fill="none" stroke="#fff" stroke-width="2.2" stroke-linejoin="round" stroke-linecap="round"/><polyline points="656.0,247.0 667.0,247.0" fill="none" stroke="#fff" stroke-width="2.2" stroke-linejoin="round" stroke-linecap="round"/><polyline points="670.4,247.0 673.8,247.0" fill="none" stroke="#fff" stroke-width="2.2" stroke-linejoin="round" stroke-linecap="round"/><polyline points="646.0,280.0 642.6,282.5 640.3,284.8 643.5,286.7 641.0,295.0 637.6,301.9 635.0,307.8 635.9,315.4 638.4,320.4 641.8,324.6 644.3,328.5" fill="none" stroke="#fff" stroke-width="2.2" stroke-linejoin="round" stroke-linecap="round"/><polyline points="648.5,328.0 651.9,332.2 654.4,334.7" fill="none" stroke="#fff" stroke-width="2.2" stroke-linejoin="round" stroke-linecap="round"/><line x1="600.8" y1="128.7" x2="620.5" y2="128.7" stroke="#fff" stroke-width="1.8" stroke-dasharray="2.2,1.6"/></g></mask>
<g mask="url(#me)"><rect x="597.4" y="42.5" width="30.1" height="319.8" fill="#9c00ff"/><rect x="627.5" y="42.5" width="26.9" height="319.8" fill="#ff0000"/><rect x="654.4" y="42.5" width="24.4" height="319.8" fill="#ff9c00"/><rect x="678.8" y="42.5" width="5.5" height="319.8" fill="#ffff00"/></g>
<g stroke="#555" stroke-width="0.8"><line x1="283.9" y1="362.30" x2="285.5" y2="362.30"/><line x1="366.3" y1="362.30" x2="367.90000000000003" y2="362.30"/><line x1="283.9" y1="355.19" x2="285.5" y2="355.19"/><line x1="366.3" y1="355.19" x2="367.90000000000003" y2="355.19"/><line x1="282.9" y1="348.09" x2="285.5" y2="348.09"/><line x1="366.3" y1="348.09" x2="368.90000000000003" y2="348.09"/><line x1="283.9" y1="340.98" x2="285.5" y2="340.98"/><line x1="366.3" y1="340.98" x2="367.90000000000003" y2="340.98"/><line x1="283.9" y1="333.87" x2="285.5" y2="333.87"/><line x1="366.3" y1="333.87" x2="367.90000000000003" y2="333.87"/><line x1="283.9" y1="326.77" x2="285.5" y2="326.77"/><line x1="366.3" y1="326.77" x2="367.90000000000003" y2="326.77"/><line x1="282.9" y1="319.66" x2="285.5" y2="319.66"/><line x1="366.3" y1="319.66" x2="368.90000000000003" y2="319.66"/><line x1="283.9" y1="312.55" x2="285.5" y2="312.55"/><line x1="366.3" y1="312.55" x2="367.90000000000003" y2="312.55"/><line x1="283.9" y1="305.45" x2="285.5" y2="305.45"/><line x1="366.3" y1="305.45" x2="367.90000000000003" y2="305.45"/><line x1="283.9" y1="298.34" x2="285.5" y2="298.34"/><line x1="366.3" y1="298.34" x2="367.90000000000003" y2="298.34"/><line x1="282.9" y1="291.23" x2="285.5" y2="291.23"/><line x1="366.3" y1="291.23" x2="368.90000000000003" y2="291.23"/><line x1="283.9" y1="284.13" x2="285.5" y2="284.13"/><line x1="366.3" y1="284.13" x2="367.90000000000003" y2="284.13"/><line x1="283.9" y1="277.02" x2="285.5" y2="277.02"/><line x1="366.3" y1="277.02" x2="367.90000000000003" y2="277.02"/><line x1="283.9" y1="269.91" x2="285.5" y2="269.91"/><line x1="366.3" y1="269.91" x2="367.90000000000003" y2="269.91"/><line x1="282.9" y1="262.81" x2="285.5" y2="262.81"/><line x1="366.3" y1="262.81" x2="368.90000000000003" y2="262.81"/><line x1="283.9" y1="255.70" x2="285.5" y2="255.70"/><line x1="366.3" y1="255.70" x2="367.90000000000003" y2="255.70"/><line x1="283.9" y1="248.59" x2="285.5" y2="248.59"/><line x1="366.3" y1="248.59" x2="367.90000000000003" y2="248.59"/><line x1="283.9" y1="241.49" x2="285.5" y2="241.49"/><line x1="366.3" y1="241.49" x2="367.90000000000003" y2="241.49"/><line x1="282.9" y1="234.38" x2="285.5" y2="234.38"/><line x1="366.3" y1="234.38" x2="368.90000000000003" y2="234.38"/><line x1="283.9" y1="227.27" x2="285.5" y2="227.27"/><line x1="366.3" y1="227.27" x2="367.90000000000003" y2="227.27"/><line x1="283.9" y1="220.17" x2="285.5" y2="220.17"/><line x1="366.3" y1="220.17" x2="367.90000000000003" y2="220.17"/><line x1="283.9" y1="213.06" x2="285.5" y2="213.06"/><line x1="366.3" y1="213.06" x2="367.90000000000003" y2="213.06"/><line x1="282.9" y1="205.95" x2="285.5" y2="205.95"/><line x1="366.3" y1="205.95" x2="368.90000000000003" y2="205.95"/><line x1="283.9" y1="198.85" x2="285.5" y2="198.85"/><line x1="366.3" y1="198.85" x2="367.90000000000003" y2="198.85"/><line x1="283.9" y1="191.74" x2="285.5" y2="191.74"/><line x1="366.3" y1="191.74" x2="367.90000000000003" y2="191.74"/><line x1="283.9" y1="184.63" x2="285.5" y2="184.63"/><line x1="366.3" y1="184.63" x2="367.90000000000003" y2="184.63"/><line x1="282.9" y1="177.53" x2="285.5" y2="177.53"/><line x1="366.3" y1="177.53" x2="368.90000000000003" y2="177.53"/><line x1="283.9" y1="170.42" x2="285.5" y2="170.42"/><line x1="366.3" y1="170.42" x2="367.90000000000003" y2="170.42"/><line x1="283.9" y1="163.31" x2="285.5" y2="163.31"/><line x1="366.3" y1="163.31" x2="367.90000000000003" y2="163.31"/><line x1="283.9" y1="156.21" x2="285.5" y2="156.21"/><line x1="366.3" y1="156.21" x2="367.90000000000003" y2="156.21"/><line x1="282.9" y1="149.10" x2="285.5" y2="149.10"/><line x1="366.3" y1="149.10" x2="368.90000000000003" y2="149.10"/><line x1="283.9" y1="141.99" x2="285.5" y2="141.99"/><line x1="366.3" y1="141.99" x2="367.90000000000003" y2="141.99"/><line x1="283.9" y1="134.89" x2="285.5" y2="134.89"/><line x1="366.3" y1="134.89" x2="367.90000000000003" y2="134.89"/><line x1="283.9" y1="127.78" x2="285.5" y2="127.78"/><line x1="366.3" y1="127.78" x2="367.90000000000003" y2="127.78"/><line x1="282.9" y1="120.67" x2="285.5" y2="120.67"/><line x1="366.3" y1="120.67" x2="368.90000000000003" y2="120.67"/><line x1="283.9" y1="113.57" x2="285.5" y2="113.57"/><line x1="366.3" y1="113.57" x2="367.90000000000003" y2="113.57"/><line x1="283.9" y1="106.46" x2="285.5" y2="106.46"/><line x1="366.3" y1="106.46" x2="367.90000000000003" y2="106.46"/><line x1="283.9" y1="99.35" x2="285.5" y2="99.35"/><line x1="366.3" y1="99.35" x2="367.90000000000003" y2="99.35"/><line x1="282.9" y1="92.25" x2="285.5" y2="92.25"/><line x1="366.3" y1="92.25" x2="368.90000000000003" y2="92.25"/><line x1="283.9" y1="85.14" x2="285.5" y2="85.14"/><line x1="366.3" y1="85.14" x2="367.90000000000003" y2="85.14"/><line x1="283.9" y1="78.03" x2="285.5" y2="78.03"/><line x1="366.3" y1="78.03" x2="367.90000000000003" y2="78.03"/><line x1="283.9" y1="70.93" x2="285.5" y2="70.93"/><line x1="366.3" y1="70.93" x2="367.90000000000003" y2="70.93"/><line x1="282.9" y1="63.82" x2="285.5" y2="63.82"/><line x1="366.3" y1="63.82" x2="368.90000000000003" y2="63.82"/><line x1="283.9" y1="56.71" x2="285.5" y2="56.71"/><line x1="366.3" y1="56.71" x2="367.90000000000003" y2="56.71"/><line x1="283.9" y1="49.61" x2="285.5" y2="49.61"/><line x1="366.3" y1="49.61" x2="367.90000000000003" y2="49.61"/><line x1="283.9" y1="42.50" x2="285.5" y2="42.50"/><line x1="366.3" y1="42.50" x2="367.90000000000003" y2="42.50"/><line x1="285.50" y1="39.3" x2="285.50" y2="42.5"/><line x1="285.50" y1="362.3" x2="285.50" y2="365.5"/><line x1="290.55" y1="40.7" x2="290.55" y2="42.5"/><line x1="290.55" y1="362.3" x2="290.55" y2="364.1"/><line x1="295.60" y1="40.7" x2="295.60" y2="42.5"/><line x1="295.60" y1="362.3" x2="295.60" y2="364.1"/><line x1="300.65" y1="40.7" x2="300.65" y2="42.5"/><line x1="300.65" y1="362.3" x2="300.65" y2="364.1"/><line x1="305.70" y1="39.3" x2="305.70" y2="42.5"/><line x1="305.70" y1="362.3" x2="305.70" y2="365.5"/><line x1="310.75" y1="40.7" x2="310.75" y2="42.5"/><line x1="310.75" y1="362.3" x2="310.75" y2="364.1"/><line x1="315.80" y1="40.7" x2="315.80" y2="42.5"/><line x1="315.80" y1="362.3" x2="315.80" y2="364.1"/><line x1="320.85" y1="40.7" x2="320.85" y2="42.5"/><line x1="320.85" y1="362.3" x2="320.85" y2="364.1"/><line x1="325.90" y1="39.3" x2="325.90" y2="42.5"/><line x1="325.90" y1="362.3" x2="325.90" y2="365.5"/><line x1="330.95" y1="40.7" x2="330.95" y2="42.5"/><line x1="330.95" y1="362.3" x2="330.95" y2="364.1"/><line x1="336.00" y1="40.7" x2="336.00" y2="42.5"/><line x1="336.00" y1="362.3" x2="336.00" y2="364.1"/><line x1="341.05" y1="40.7" x2="341.05" y2="42.5"/><line x1="341.05" y1="362.3" x2="341.05" y2="364.1"/><line x1="346.10" y1="39.3" x2="346.10" y2="42.5"/><line x1="346.10" y1="362.3" x2="346.10" y2="365.5"/><line x1="351.15" y1="40.7" x2="351.15" y2="42.5"/><line x1="351.15" y1="362.3" x2="351.15" y2="364.1"/><line x1="356.20" y1="40.7" x2="356.20" y2="42.5"/><line x1="356.20" y1="362.3" x2="356.20" y2="364.1"/><line x1="361.25" y1="40.7" x2="361.25" y2="42.5"/><line x1="361.25" y1="362.3" x2="361.25" y2="364.1"/><line x1="366.30" y1="39.3" x2="366.30" y2="42.5"/><line x1="366.30" y1="362.3" x2="366.30" y2="365.5"/></g>
<rect x="285.5" y="42.5" width="80.80" height="319.80" fill="none" stroke="#555" stroke-width="0.9"/>
<g font-family="Liberation Serif, serif" font-size="9.3" fill="#333"><text x="279.60" y="352.69" text-anchor="end">24</text><text x="279.60" y="324.26" text-anchor="end">26</text><text x="279.60" y="295.83" text-anchor="end">28</text><text x="279.60" y="267.41" text-anchor="end">30</text><text x="279.60" y="238.98" text-anchor="end">32</text><text x="279.60" y="210.55" text-anchor="end">34</text><text x="279.60" y="182.13" text-anchor="end">36</text><text x="279.60" y="153.70" text-anchor="end">38</text><text x="279.60" y="125.27" text-anchor="end">40</text><text x="279.60" y="96.85" text-anchor="end">42</text><text x="279.60" y="68.42" text-anchor="end">44</text><text x="285.50" y="377.2" text-anchor="middle">0</text><text x="305.70" y="377.2" text-anchor="middle">2</text><text x="325.90" y="377.2" text-anchor="middle">4</text><text x="346.10" y="377.2" text-anchor="middle">6</text><text x="366.30" y="377.2" text-anchor="middle">8</text></g>
<g stroke="#555" stroke-width="0.8"><line x1="388.7" y1="362.30" x2="390.3" y2="362.30"/><line x1="471.2" y1="362.30" x2="472.8" y2="362.30"/><line x1="388.7" y1="355.19" x2="390.3" y2="355.19"/><line x1="471.2" y1="355.19" x2="472.8" y2="355.19"/><line x1="387.7" y1="348.09" x2="390.3" y2="348.09"/><line x1="471.2" y1="348.09" x2="473.8" y2="348.09"/><line x1="388.7" y1="340.98" x2="390.3" y2="340.98"/><line x1="471.2" y1="340.98" x2="472.8" y2="340.98"/><line x1="388.7" y1="333.87" x2="390.3" y2="333.87"/><line x1="471.2" y1="333.87" x2="472.8" y2="333.87"/><line x1="388.7" y1="326.77" x2="390.3" y2="326.77"/><line x1="471.2" y1="326.77" x2="472.8" y2="326.77"/><line x1="387.7" y1="319.66" x2="390.3" y2="319.66"/><line x1="471.2" y1="319.66" x2="473.8" y2="319.66"/><line x1="388.7" y1="312.55" x2="390.3" y2="312.55"/><line x1="471.2" y1="312.55" x2="472.8" y2="312.55"/><line x1="388.7" y1="305.45" x2="390.3" y2="305.45"/><line x1="471.2" y1="305.45" x2="472.8" y2="305.45"/><line x1="388.7" y1="298.34" x2="390.3" y2="298.34"/><line x1="471.2" y1="298.34" x2="472.8" y2="298.34"/><line x1="387.7" y1="291.23" x2="390.3" y2="291.23"/><line x1="471.2" y1="291.23" x2="473.8" y2="291.23"/><line x1="388.7" y1="284.13" x2="390.3" y2="284.13"/><line x1="471.2" y1="284.13" x2="472.8" y2="284.13"/><line x1="388.7" y1="277.02" x2="390.3" y2="277.02"/><line x1="471.2" y1="277.02" x2="472.8" y2="277.02"/><line x1="388.7" y1="269.91" x2="390.3" y2="269.91"/><line x1="471.2" y1="269.91" x2="472.8" y2="269.91"/><line x1="387.7" y1="262.81" x2="390.3" y2="262.81"/><line x1="471.2" y1="262.81" x2="473.8" y2="262.81"/><line x1="388.7" y1="255.70" x2="390.3" y2="255.70"/><line x1="471.2" y1="255.70" x2="472.8" y2="255.70"/><line x1="388.7" y1="248.59" x2="390.3" y2="248.59"/><line x1="471.2" y1="248.59" x2="472.8" y2="248.59"/><line x1="388.7" y1="241.49" x2="390.3" y2="241.49"/><line x1="471.2" y1="241.49" x2="472.8" y2="241.49"/><line x1="387.7" y1="234.38" x2="390.3" y2="234.38"/><line x1="471.2" y1="234.38" x2="473.8" y2="234.38"/><line x1="388.7" y1="227.27" x2="390.3" y2="227.27"/><line x1="471.2" y1="227.27" x2="472.8" y2="227.27"/><line x1="388.7" y1="220.17" x2="390.3" y2="220.17"/><line x1="471.2" y1="220.17" x2="472.8" y2="220.17"/><line x1="388.7" y1="213.06" x2="390.3" y2="213.06"/><line x1="471.2" y1="213.06" x2="472.8" y2="213.06"/><line x1="387.7" y1="205.95" x2="390.3" y2="205.95"/><line x1="471.2" y1="205.95" x2="473.8" y2="205.95"/><line x1="388.7" y1="198.85" x2="390.3" y2="198.85"/><line x1="471.2" y1="198.85" x2="472.8" y2="198.85"/><line x1="388.7" y1="191.74" x2="390.3" y2="191.74"/><line x1="471.2" y1="191.74" x2="472.8" y2="191.74"/><line x1="388.7" y1="184.63" x2="390.3" y2="184.63"/><line x1="471.2" y1="184.63" x2="472.8" y2="184.63"/><line x1="387.7" y1="177.53" x2="390.3" y2="177.53"/><line x1="471.2" y1="177.53" x2="473.8" y2="177.53"/><line x1="388.7" y1="170.42" x2="390.3" y2="170.42"/><line x1="471.2" y1="170.42" x2="472.8" y2="170.42"/><line x1="388.7" y1="163.31" x2="390.3" y2="163.31"/><line x1="471.2" y1="163.31" x2="472.8" y2="163.31"/><line x1="388.7" y1="156.21" x2="390.3" y2="156.21"/><line x1="471.2" y1="156.21" x2="472.8" y2="156.21"/><line x1="387.7" y1="149.10" x2="390.3" y2="149.10"/><line x1="471.2" y1="149.10" x2="473.8" y2="149.10"/><line x1="388.7" y1="141.99" x2="390.3" y2="141.99"/><line x1="471.2" y1="141.99" x2="472.8" y2="141.99"/><line x1="388.7" y1="134.89" x2="390.3" y2="134.89"/><line x1="471.2" y1="134.89" x2="472.8" y2="134.89"/><line x1="388.7" y1="127.78" x2="390.3" y2="127.78"/><line x1="471.2" y1="127.78" x2="472.8" y2="127.78"/><line x1="387.7" y1="120.67" x2="390.3" y2="120.67"/><line x1="471.2" y1="120.67" x2="473.8" y2="120.67"/><line x1="388.7" y1="113.57" x2="390.3" y2="113.57"/><line x1="471.2" y1="113.57" x2="472.8" y2="113.57"/><line x1="388.7" y1="106.46" x2="390.3" y2="106.46"/><line x1="471.2" y1="106.46" x2="472.8" y2="106.46"/><line x1="388.7" y1="99.35" x2="390.3" y2="99.35"/><line x1="471.2" y1="99.35" x2="472.8" y2="99.35"/><line x1="387.7" y1="92.25" x2="390.3" y2="92.25"/><line x1="471.2" y1="92.25" x2="473.8" y2="92.25"/><line x1="388.7" y1="85.14" x2="390.3" y2="85.14"/><line x1="471.2" y1="85.14" x2="472.8" y2="85.14"/><line x1="388.7" y1="78.03" x2="390.3" y2="78.03"/><line x1="471.2" y1="78.03" x2="472.8" y2="78.03"/><line x1="388.7" y1="70.93" x2="390.3" y2="70.93"/><line x1="471.2" y1="70.93" x2="472.8" y2="70.93"/><line x1="387.7" y1="63.82" x2="390.3" y2="63.82"/><line x1="471.2" y1="63.82" x2="473.8" y2="63.82"/><line x1="388.7" y1="56.71" x2="390.3" y2="56.71"/><line x1="471.2" y1="56.71" x2="472.8" y2="56.71"/><line x1="388.7" y1="49.61" x2="390.3" y2="49.61"/><line x1="471.2" y1="49.61" x2="472.8" y2="49.61"/><line x1="388.7" y1="42.50" x2="390.3" y2="42.50"/><line x1="471.2" y1="42.50" x2="472.8" y2="42.50"/><line x1="390.30" y1="39.3" x2="390.30" y2="42.5"/><line x1="390.30" y1="362.3" x2="390.30" y2="365.5"/><line x1="395.36" y1="40.7" x2="395.36" y2="42.5"/><line x1="395.36" y1="362.3" x2="395.36" y2="364.1"/><line x1="400.41" y1="40.7" x2="400.41" y2="42.5"/><line x1="400.41" y1="362.3" x2="400.41" y2="364.1"/><line x1="405.47" y1="40.7" x2="405.47" y2="42.5"/><line x1="405.47" y1="362.3" x2="405.47" y2="364.1"/><line x1="410.52" y1="39.3" x2="410.52" y2="42.5"/><line x1="410.52" y1="362.3" x2="410.52" y2="365.5"/><line x1="415.58" y1="40.7" x2="415.58" y2="42.5"/><line x1="415.58" y1="362.3" x2="415.58" y2="364.1"/><line x1="420.64" y1="40.7" x2="420.64" y2="42.5"/><line x1="420.64" y1="362.3" x2="420.64" y2="364.1"/><line x1="425.69" y1="40.7" x2="425.69" y2="42.5"/><line x1="425.69" y1="362.3" x2="425.69" y2="364.1"/><line x1="430.75" y1="39.3" x2="430.75" y2="42.5"/><line x1="430.75" y1="362.3" x2="430.75" y2="365.5"/><line x1="435.81" y1="40.7" x2="435.81" y2="42.5"/><line x1="435.81" y1="362.3" x2="435.81" y2="364.1"/><line x1="440.86" y1="40.7" x2="440.86" y2="42.5"/><line x1="440.86" y1="362.3" x2="440.86" y2="364.1"/><line x1="445.92" y1="40.7" x2="445.92" y2="42.5"/><line x1="445.92" y1="362.3" x2="445.92" y2="364.1"/><line x1="450.98" y1="39.3" x2="450.98" y2="42.5"/><line x1="450.98" y1="362.3" x2="450.98" y2="365.5"/><line x1="456.03" y1="40.7" x2="456.03" y2="42.5"/><line x1="456.03" y1="362.3" x2="456.03" y2="364.1"/><line x1="461.09" y1="40.7" x2="461.09" y2="42.5"/><line x1="461.09" y1="362.3" x2="461.09" y2="364.1"/><line x1="466.14" y1="40.7" x2="466.14" y2="42.5"/><line x1="466.14" y1="362.3" x2="466.14" y2="364.1"/><line x1="471.20" y1="39.3" x2="471.20" y2="42.5"/><line x1="471.20" y1="362.3" x2="471.20" y2="365.5"/></g>
<rect x="390.3" y="42.5" width="80.90" height="319.80" fill="none" stroke="#555" stroke-width="0.9"/>
<g font-family="Liberation Serif, serif" font-size="9.3" fill="#333"><text x="384.40" y="352.69" text-anchor="end">24</text><text x="384.40" y="324.26" text-anchor="end">26</text><text x="384.40" y="295.83" text-anchor="end">28</text><text x="384.40" y="267.41" text-anchor="end">30</text><text x="384.40" y="238.98" text-anchor="end">32</text><text x="384.40" y="210.55" text-anchor="end">34</text><text x="384.40" y="182.13" text-anchor="end">36</text><text x="384.40" y="153.70" text-anchor="end">38</text><text x="384.40" y="125.27" text-anchor="end">40</text><text x="384.40" y="96.85" text-anchor="end">42</text><text x="384.40" y="68.42" text-anchor="end">44</text><text x="390.30" y="377.2" text-anchor="middle">0</text><text x="410.52" y="377.2" text-anchor="middle">2</text><text x="430.75" y="377.2" text-anchor="middle">4</text><text x="450.98" y="377.2" text-anchor="middle">6</text><text x="471.20" y="377.2" text-anchor="middle">8</text></g>
<g stroke="#555" stroke-width="0.8"><line x1="493.7" y1="362.30" x2="495.3" y2="362.30"/><line x1="576.2" y1="362.30" x2="577.8000000000001" y2="362.30"/><line x1="493.7" y1="355.19" x2="495.3" y2="355.19"/><line x1="576.2" y1="355.19" x2="577.8000000000001" y2="355.19"/><line x1="492.7" y1="348.09" x2="495.3" y2="348.09"/><line x1="576.2" y1="348.09" x2="578.8000000000001" y2="348.09"/><line x1="493.7" y1="340.98" x2="495.3" y2="340.98"/><line x1="576.2" y1="340.98" x2="577.8000000000001" y2="340.98"/><line x1="493.7" y1="333.87" x2="495.3" y2="333.87"/><line x1="576.2" y1="333.87" x2="577.8000000000001" y2="333.87"/><line x1="493.7" y1="326.77" x2="495.3" y2="326.77"/><line x1="576.2" y1="326.77" x2="577.8000000000001" y2="326.77"/><line x1="492.7" y1="319.66" x2="495.3" y2="319.66"/><line x1="576.2" y1="319.66" x2="578.8000000000001" y2="319.66"/><line x1="493.7" y1="312.55" x2="495.3" y2="312.55"/><line x1="576.2" y1="312.55" x2="577.8000000000001" y2="312.55"/><line x1="493.7" y1="305.45" x2="495.3" y2="305.45"/><line x1="576.2" y1="305.45" x2="577.8000000000001" y2="305.45"/><line x1="493.7" y1="298.34" x2="495.3" y2="298.34"/><line x1="576.2" y1="298.34" x2="577.8000000000001" y2="298.34"/><line x1="492.7" y1="291.23" x2="495.3" y2="291.23"/><line x1="576.2" y1="291.23" x2="578.8000000000001" y2="291.23"/><line x1="493.7" y1="284.13" x2="495.3" y2="284.13"/><line x1="576.2" y1="284.13" x2="577.8000000000001" y2="284.13"/><line x1="493.7" y1="277.02" x2="495.3" y2="277.02"/><line x1="576.2" y1="277.02" x2="577.8000000000001" y2="277.02"/><line x1="493.7" y1="269.91" x2="495.3" y2="269.91"/><line x1="576.2" y1="269.91" x2="577.8000000000001" y2="269.91"/><line x1="492.7" y1="262.81" x2="495.3" y2="262.81"/><line x1="576.2" y1="262.81" x2="578.8000000000001" y2="262.81"/><line x1="493.7" y1="255.70" x2="495.3" y2="255.70"/><line x1="576.2" y1="255.70" x2="577.8000000000001" y2="255.70"/><line x1="493.7" y1="248.59" x2="495.3" y2="248.59"/><line x1="576.2" y1="248.59" x2="577.8000000000001" y2="248.59"/><line x1="493.7" y1="241.49" x2="495.3" y2="241.49"/><line x1="576.2" y1="241.49" x2="577.8000000000001" y2="241.49"/><line x1="492.7" y1="234.38" x2="495.3" y2="234.38"/><line x1="576.2" y1="234.38" x2="578.8000000000001" y2="234.38"/><line x1="493.7" y1="227.27" x2="495.3" y2="227.27"/><line x1="576.2" y1="227.27" x2="577.8000000000001" y2="227.27"/><line x1="493.7" y1="220.17" x2="495.3" y2="220.17"/><line x1="576.2" y1="220.17" x2="577.8000000000001" y2="220.17"/><line x1="493.7" y1="213.06" x2="495.3" y2="213.06"/><line x1="576.2" y1="213.06" x2="577.8000000000001" y2="213.06"/><line x1="492.7" y1="205.95" x2="495.3" y2="205.95"/><line x1="576.2" y1="205.95" x2="578.8000000000001" y2="205.95"/><line x1="493.7" y1="198.85" x2="495.3" y2="198.85"/><line x1="576.2" y1="198.85" x2="577.8000000000001" y2="198.85"/><line x1="493.7" y1="191.74" x2="495.3" y2="191.74"/><line x1="576.2" y1="191.74" x2="577.8000000000001" y2="191.74"/><line x1="493.7" y1="184.63" x2="495.3" y2="184.63"/><line x1="576.2" y1="184.63" x2="577.8000000000001" y2="184.63"/><line x1="492.7" y1="177.53" x2="495.3" y2="177.53"/><line x1="576.2" y1="177.53" x2="578.8000000000001" y2="177.53"/><line x1="493.7" y1="170.42" x2="495.3" y2="170.42"/><line x1="576.2" y1="170.42" x2="577.8000000000001" y2="170.42"/><line x1="493.7" y1="163.31" x2="495.3" y2="163.31"/><line x1="576.2" y1="163.31" x2="577.8000000000001" y2="163.31"/><line x1="493.7" y1="156.21" x2="495.3" y2="156.21"/><line x1="576.2" y1="156.21" x2="577.8000000000001" y2="156.21"/><line x1="492.7" y1="149.10" x2="495.3" y2="149.10"/><line x1="576.2" y1="149.10" x2="578.8000000000001" y2="149.10"/><line x1="493.7" y1="141.99" x2="495.3" y2="141.99"/><line x1="576.2" y1="141.99" x2="577.8000000000001" y2="141.99"/><line x1="493.7" y1="134.89" x2="495.3" y2="134.89"/><line x1="576.2" y1="134.89" x2="577.8000000000001" y2="134.89"/><line x1="493.7" y1="127.78" x2="495.3" y2="127.78"/><line x1="576.2" y1="127.78" x2="577.8000000000001" y2="127.78"/><line x1="492.7" y1="120.67" x2="495.3" y2="120.67"/><line x1="576.2" y1="120.67" x2="578.8000000000001" y2="120.67"/><line x1="493.7" y1="113.57" x2="495.3" y2="113.57"/><line x1="576.2" y1="113.57" x2="577.8000000000001" y2="113.57"/><line x1="493.7" y1="106.46" x2="495.3" y2="106.46"/><line x1="576.2" y1="106.46" x2="577.8000000000001" y2="106.46"/><line x1="493.7" y1="99.35" x2="495.3" y2="99.35"/><line x1="576.2" y1="99.35" x2="577.8000000000001" y2="99.35"/><line x1="492.7" y1="92.25" x2="495.3" y2="92.25"/><line x1="576.2" y1="92.25" x2="578.8000000000001" y2="92.25"/><line x1="493.7" y1="85.14" x2="495.3" y2="85.14"/><line x1="576.2" y1="85.14" x2="577.8000000000001" y2="85.14"/><line x1="493.7" y1="78.03" x2="495.3" y2="78.03"/><line x1="576.2" y1="78.03" x2="577.8000000000001" y2="78.03"/><line x1="493.7" y1="70.93" x2="495.3" y2="70.93"/><line x1="576.2" y1="70.93" x2="577.8000000000001" y2="70.93"/><line x1="492.7" y1="63.82" x2="495.3" y2="63.82"/><line x1="576.2" y1="63.82" x2="578.8000000000001" y2="63.82"/><line x1="493.7" y1="56.71" x2="495.3" y2="56.71"/><line x1="576.2" y1="56.71" x2="577.8000000000001" y2="56.71"/><line x1="493.7" y1="49.61" x2="495.3" y2="49.61"/><line x1="576.2" y1="49.61" x2="577.8000000000001" y2="49.61"/><line x1="493.7" y1="42.50" x2="495.3" y2="42.50"/><line x1="576.2" y1="42.50" x2="577.8000000000001" y2="42.50"/><line x1="509.60" y1="40.7" x2="509.60" y2="42.5"/><line x1="509.60" y1="362.3" x2="509.60" y2="364.1"/><line x1="528.40" y1="39.3" x2="528.40" y2="42.5"/><line x1="528.40" y1="362.3" x2="528.40" y2="365.5"/><line x1="547.60" y1="40.7" x2="547.60" y2="42.5"/><line x1="547.60" y1="362.3" x2="547.60" y2="364.1"/><line x1="566.40" y1="40.7" x2="566.40" y2="42.5"/><line x1="566.40" y1="362.3" x2="566.40" y2="364.1"/></g>
<rect x="495.3" y="42.5" width="80.90" height="319.80" fill="none" stroke="#555" stroke-width="0.9"/>
<line x1="576.2" y1="42.5" x2="576.2" y2="362.3" stroke="#c8c8c8" stroke-width="1.6"/>
<g font-family="Liberation Serif, serif" font-size="9.3" fill="#333"><text x="489.40" y="352.69" text-anchor="end">24</text><text x="489.40" y="324.26" text-anchor="end">26</text><text x="489.40" y="295.83" text-anchor="end">28</text><text x="489.40" y="267.41" text-anchor="end">30</text><text x="489.40" y="238.98" text-anchor="end">32</text><text x="489.40" y="210.55" text-anchor="end">34</text><text x="489.40" y="182.13" text-anchor="end">36</text><text x="489.40" y="153.70" text-anchor="end">38</text><text x="489.40" y="125.27" text-anchor="end">40</text><text x="489.40" y="96.85" text-anchor="end">42</text><text x="489.40" y="68.42" text-anchor="end">44</text><text x="529" y="379.4" text-anchor="middle">10<tspan font-size="7" dy="-4">0</tspan></text></g>
<g stroke="#555" stroke-width="0.8"><line x1="598.8" y1="362.30" x2="600.4" y2="362.30"/><line x1="681.3" y1="362.30" x2="682.9" y2="362.30"/><line x1="598.8" y1="355.19" x2="600.4" y2="355.19"/><line x1="681.3" y1="355.19" x2="682.9" y2="355.19"/><line x1="597.8" y1="348.09" x2="600.4" y2="348.09"/><line x1="681.3" y1="348.09" x2="683.9" y2="348.09"/><line x1="598.8" y1="340.98" x2="600.4" y2="340.98"/><line x1="681.3" y1="340.98" x2="682.9" y2="340.98"/><line x1="598.8" y1="333.87" x2="600.4" y2="333.87"/><line x1="681.3" y1="333.87" x2="682.9" y2="333.87"/><line x1="598.8" y1="326.77" x2="600.4" y2="326.77"/><line x1="681.3" y1="326.77" x2="682.9" y2="326.77"/><line x1="597.8" y1="319.66" x2="600.4" y2="319.66"/><line x1="681.3" y1="319.66" x2="683.9" y2="319.66"/><line x1="598.8" y1="312.55" x2="600.4" y2="312.55"/><line x1="681.3" y1="312.55" x2="682.9" y2="312.55"/><line x1="598.8" y1="305.45" x2="600.4" y2="305.45"/><line x1="681.3" y1="305.45" x2="682.9" y2="305.45"/><line x1="598.8" y1="298.34" x2="600.4" y2="298.34"/><line x1="681.3" y1="298.34" x2="682.9" y2="298.34"/><line x1="597.8" y1="291.23" x2="600.4" y2="291.23"/><line x1="681.3" y1="291.23" x2="683.9" y2="291.23"/><line x1="598.8" y1="284.13" x2="600.4" y2="284.13"/><line x1="681.3" y1="284.13" x2="682.9" y2="284.13"/><line x1="598.8" y1="277.02" x2="600.4" y2="277.02"/><line x1="681.3" y1="277.02" x2="682.9" y2="277.02"/><line x1="598.8" y1="269.91" x2="600.4" y2="269.91"/><line x1="681.3" y1="269.91" x2="682.9" y2="269.91"/><line x1="597.8" y1="262.81" x2="600.4" y2="262.81"/><line x1="681.3" y1="262.81" x2="683.9" y2="262.81"/><line x1="598.8" y1="255.70" x2="600.4" y2="255.70"/><line x1="681.3" y1="255.70" x2="682.9" y2="255.70"/><line x1="598.8" y1="248.59" x2="600.4" y2="248.59"/><line x1="681.3" y1="248.59" x2="682.9" y2="248.59"/><line x1="598.8" y1="241.49" x2="600.4" y2="241.49"/><line x1="681.3" y1="241.49" x2="682.9" y2="241.49"/><line x1="597.8" y1="234.38" x2="600.4" y2="234.38"/><line x1="681.3" y1="234.38" x2="683.9" y2="234.38"/><line x1="598.8" y1="227.27" x2="600.4" y2="227.27"/><line x1="681.3" y1="227.27" x2="682.9" y2="227.27"/><line x1="598.8" y1="220.17" x2="600.4" y2="220.17"/><line x1="681.3" y1="220.17" x2="682.9" y2="220.17"/><line x1="598.8" y1="213.06" x2="600.4" y2="213.06"/><line x1="681.3" y1="213.06" x2="682.9" y2="213.06"/><line x1="597.8" y1="205.95" x2="600.4" y2="205.95"/><line x1="681.3" y1="205.95" x2="683.9" y2="205.95"/><line x1="598.8" y1="198.85" x2="600.4" y2="198.85"/><line x1="681.3" y1="198.85" x2="682.9" y2="198.85"/><line x1="598.8" y1="191.74" x2="600.4" y2="191.74"/><line x1="681.3" y1="191.74" x2="682.9" y2="191.74"/><line x1="598.8" y1="184.63" x2="600.4" y2="184.63"/><line x1="681.3" y1="184.63" x2="682.9" y2="184.63"/><line x1="597.8" y1="177.53" x2="600.4" y2="177.53"/><line x1="681.3" y1="177.53" x2="683.9" y2="177.53"/><line x1="598.8" y1="170.42" x2="600.4" y2="170.42"/><line x1="681.3" y1="170.42" x2="682.9" y2="170.42"/><line x1="598.8" y1="163.31" x2="600.4" y2="163.31"/><line x1="681.3" y1="163.31" x2="682.9" y2="163.31"/><line x1="598.8" y1="156.21" x2="600.4" y2="156.21"/><line x1="681.3" y1="156.21" x2="682.9" y2="156.21"/><line x1="597.8" y1="149.10" x2="600.4" y2="149.10"/><line x1="681.3" y1="149.10" x2="683.9" y2="149.10"/><line x1="598.8" y1="141.99" x2="600.4" y2="141.99"/><line x1="681.3" y1="141.99" x2="682.9" y2="141.99"/><line x1="598.8" y1="134.89" x2="600.4" y2="134.89"/><line x1="681.3" y1="134.89" x2="682.9" y2="134.89"/><line x1="598.8" y1="127.78" x2="600.4" y2="127.78"/><line x1="681.3" y1="127.78" x2="682.9" y2="127.78"/><line x1="597.8" y1="120.67" x2="600.4" y2="120.67"/><line x1="681.3" y1="120.67" x2="683.9" y2="120.67"/><line x1="598.8" y1="113.57" x2="600.4" y2="113.57"/><line x1="681.3" y1="113.57" x2="682.9" y2="113.57"/><line x1="598.8" y1="106.46" x2="600.4" y2="106.46"/><line x1="681.3" y1="106.46" x2="682.9" y2="106.46"/><line x1="598.8" y1="99.35" x2="600.4" y2="99.35"/><line x1="681.3" y1="99.35" x2="682.9" y2="99.35"/><line x1="597.8" y1="92.25" x2="600.4" y2="92.25"/><line x1="681.3" y1="92.25" x2="683.9" y2="92.25"/><line x1="598.8" y1="85.14" x2="600.4" y2="85.14"/><line x1="681.3" y1="85.14" x2="682.9" y2="85.14"/><line x1="598.8" y1="78.03" x2="600.4" y2="78.03"/><line x1="681.3" y1="78.03" x2="682.9" y2="78.03"/><line x1="598.8" y1="70.93" x2="600.4" y2="70.93"/><line x1="681.3" y1="70.93" x2="682.9" y2="70.93"/><line x1="597.8" y1="63.82" x2="600.4" y2="63.82"/><line x1="681.3" y1="63.82" x2="683.9" y2="63.82"/><line x1="598.8" y1="56.71" x2="600.4" y2="56.71"/><line x1="681.3" y1="56.71" x2="682.9" y2="56.71"/><line x1="598.8" y1="49.61" x2="600.4" y2="49.61"/><line x1="681.3" y1="49.61" x2="682.9" y2="49.61"/><line x1="598.8" y1="42.50" x2="600.4" y2="42.50"/><line x1="681.3" y1="42.50" x2="682.9" y2="42.50"/><line x1="600.40" y1="39.3" x2="600.40" y2="42.5"/><line x1="600.40" y1="362.3" x2="600.40" y2="365.5"/><line x1="607.14" y1="40.7" x2="607.14" y2="42.5"/><line x1="607.14" y1="362.3" x2="607.14" y2="364.1"/><line x1="613.88" y1="40.7" x2="613.88" y2="42.5"/><line x1="613.88" y1="362.3" x2="613.88" y2="364.1"/><line x1="620.62" y1="40.7" x2="620.62" y2="42.5"/><line x1="620.62" y1="362.3" x2="620.62" y2="364.1"/><line x1="627.37" y1="39.3" x2="627.37" y2="42.5"/><line x1="627.37" y1="362.3" x2="627.37" y2="365.5"/><line x1="634.11" y1="40.7" x2="634.11" y2="42.5"/><line x1="634.11" y1="362.3" x2="634.11" y2="364.1"/><line x1="640.85" y1="40.7" x2="640.85" y2="42.5"/><line x1="640.85" y1="362.3" x2="640.85" y2="364.1"/><line x1="647.59" y1="40.7" x2="647.59" y2="42.5"/><line x1="647.59" y1="362.3" x2="647.59" y2="364.1"/><line x1="654.33" y1="39.3" x2="654.33" y2="42.5"/><line x1="654.33" y1="362.3" x2="654.33" y2="365.5"/><line x1="661.07" y1="40.7" x2="661.07" y2="42.5"/><line x1="661.07" y1="362.3" x2="661.07" y2="364.1"/><line x1="667.82" y1="40.7" x2="667.82" y2="42.5"/><line x1="667.82" y1="362.3" x2="667.82" y2="364.1"/><line x1="674.56" y1="40.7" x2="674.56" y2="42.5"/><line x1="674.56" y1="362.3" x2="674.56" y2="364.1"/><line x1="681.30" y1="39.3" x2="681.30" y2="42.5"/><line x1="681.30" y1="362.3" x2="681.30" y2="365.5"/></g>
<rect x="600.4" y="42.5" width="80.90" height="319.80" fill="none" stroke="#555" stroke-width="0.9"/>
<g font-family="Liberation Serif, serif" font-size="9.3" fill="#333"><text x="594.50" y="352.69" text-anchor="end">24</text><text x="594.50" y="324.26" text-anchor="end">26</text><text x="594.50" y="295.83" text-anchor="end">28</text><text x="594.50" y="267.41" text-anchor="end">30</text><text x="594.50" y="238.98" text-anchor="end">32</text><text x="594.50" y="210.55" text-anchor="end">34</text><text x="594.50" y="182.13" text-anchor="end">36</text><text x="594.50" y="153.70" text-anchor="end">38</text><text x="594.50" y="125.27" text-anchor="end">40</text><text x="594.50" y="96.85" text-anchor="end">42</text><text x="594.50" y="68.42" text-anchor="end">44</text><text x="600.40" y="377.2" text-anchor="middle">0</text><text x="627.37" y="377.2" text-anchor="middle">2</text><text x="654.33" y="377.2" text-anchor="middle">4</text><text x="681.30" y="377.2" text-anchor="middle">6</text></g>
<rect x="318.2" y="348.9" width="45.8" height="11.0" fill="#fff" stroke="#777" stroke-width="0.9"/>
<circle cx="325.2" cy="354.40" r="1.25" fill="#12c43c"/>
<text x="331.9" y="357.10" font-family="Liberation Serif, serif" fill="#333" font-size="8.2" font-style="italic" textLength="3.0" lengthAdjust="spacing">η</text>
<text x="334.9" y="358.40" font-family="Liberation Serif, serif" fill="#333" font-size="6.2" font-style="normal" textLength="11.1" lengthAdjust="spacing">max</text>
<text x="350" y="357.10" font-family="Liberation Serif, serif" fill="#333" font-size="8.4" font-style="normal" textLength="11.6" lengthAdjust="spacing">(m)</text>
<rect x="415.3" y="348.9" width="53.2" height="10.7" fill="#fff" stroke="#777" stroke-width="0.9"/>
<circle cx="422.0" cy="354.25" r="1.25" fill="#12c43c"/>
<text x="429" y="356.95" font-family="Liberation Serif, serif" fill="#333" font-size="8.2" font-style="italic" textLength="3.4" lengthAdjust="spacing">u</text>
<text x="432.4" y="358.25" font-family="Liberation Serif, serif" fill="#333" font-size="6.2" font-style="normal" textLength="11.6" lengthAdjust="spacing">max</text>
<text x="447.9" y="356.95" font-family="Liberation Serif, serif" fill="#333" font-size="8.4" font-style="normal" textLength="19.3" lengthAdjust="spacing">(m/s)</text>
<rect x="510.2" y="348.8" width="63.6" height="10.6" fill="#fff" stroke="#777" stroke-width="0.9"/>
<circle cx="517.6" cy="354.10" r="1.25" fill="#12c43c"/>
<text x="524.4" y="356.80" font-family="Liberation Serif, serif" fill="#333" font-size="8.4" font-style="italic" textLength="4.4" lengthAdjust="spacing">F</text>
<text x="528.6" y="358.10" font-family="Liberation Serif, serif" fill="#333" font-size="6.2" font-style="normal" textLength="11.7" lengthAdjust="spacing">max</text>
<text x="542.8" y="356.80" font-family="Liberation Serif, serif" fill="#333" font-size="8.4" font-style="normal" textLength="28.8" lengthAdjust="spacing">(KN/m)</text>
<rect x="643.4" y="349.1" width="35.4" height="10.4" fill="#fff" stroke="#777" stroke-width="0.9"/>
<circle cx="650.9" cy="354.30" r="1.25" fill="#12c43c"/>
<text x="657.8" y="357.00" font-family="Liberation Serif, serif" fill="#333" font-size="8.4" font-style="italic" textLength="2.6" lengthAdjust="spacing">t</text>
<text x="660.4" y="358.30" font-family="Liberation Serif, serif" fill="#333" font-size="6.2" font-style="normal" textLength="2.9" lengthAdjust="spacing">a</text>
<text x="666.7" y="357.00" font-family="Liberation Serif, serif" fill="#333" font-size="8.4" font-style="normal" textLength="10.4" lengthAdjust="spacing">(h)</text>
</svg></body></html>
